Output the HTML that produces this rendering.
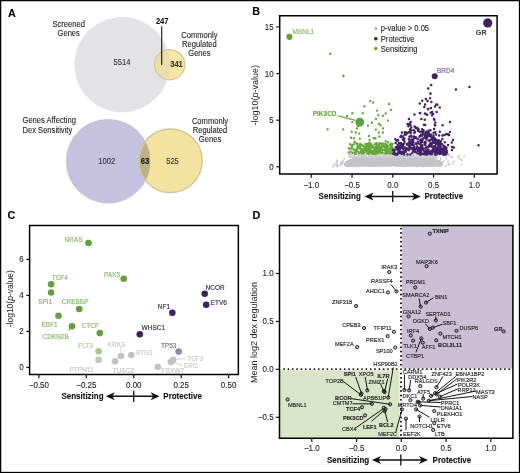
<!DOCTYPE html><html><head><meta charset="utf-8"><style>html,body{margin:0;padding:0;background:#fff;}svg{display:block;filter:blur(0.3px);}</style></head><body>
<svg width="520" height="473" viewBox="0 0 520 473" font-family='"Liberation Sans", sans-serif'>
<style>text{stroke-linejoin:round}</style>
<rect x="0" y="0" width="520" height="473" fill="#fff"/>
<text transform="translate(8.00 17.00) scale(0.93 1)" font-size="11.61" fill="#000" stroke="#000" stroke-width="0.1" text-anchor="start" font-weight="bold">A</text>
<circle cx="122.00" cy="64.70" r="47.6" fill="#e3e3e5" stroke="none" stroke-width="0" />
<circle cx="169.70" cy="64.70" r="15.1" fill="#f5e5a8" stroke="#d2c598" stroke-width="1.2" />
<clipPath id="cg"><circle cx="122" cy="64.7" r="47.6"/></clipPath>
<circle cx="169.7" cy="64.7" r="14.5" fill="#ecdca8" clip-path="url(#cg)"/>
<text transform="translate(68.70 26.80) scale(0.93 1)" font-size="8.17" fill="#222" stroke="#222" stroke-width="0.1" text-anchor="middle" font-weight="normal">Screened</text>
<text transform="translate(68.70 35.60) scale(0.93 1)" font-size="8.17" fill="#222" stroke="#222" stroke-width="0.1" text-anchor="middle" font-weight="normal">Genes</text>
<text transform="translate(199.40 38.00) scale(0.93 1)" font-size="8.17" fill="#222" stroke="#222" stroke-width="0.1" text-anchor="middle" font-weight="normal">Commonly</text>
<text transform="translate(199.40 47.10) scale(0.93 1)" font-size="8.17" fill="#222" stroke="#222" stroke-width="0.1" text-anchor="middle" font-weight="normal">Regulated</text>
<text transform="translate(199.40 56.20) scale(0.93 1)" font-size="8.17" fill="#222" stroke="#222" stroke-width="0.1" text-anchor="middle" font-weight="normal">Genes</text>
<text transform="translate(162.20 24.40) scale(0.93 1)" font-size="8.17" fill="#111" stroke="#111" stroke-width="0.1" text-anchor="middle" font-weight="bold">247</text>
<line x1="161.70" y1="26.30" x2="161.70" y2="65.00" stroke="#111" stroke-width="1.1" />
<text transform="translate(122.00 65.20) scale(0.93 1)" font-size="8.17" fill="#333" stroke="#333" stroke-width="0.1" text-anchor="middle" font-weight="normal">5514</text>
<text transform="translate(176.50 67.00) scale(0.93 1)" font-size="8.17" fill="#333" stroke="#333" stroke-width="0.1" text-anchor="middle" font-weight="bold">341</text>
<circle cx="108.20" cy="161.20" r="42.3" fill="#c6c1de" stroke="none" stroke-width="0" />
<circle cx="170.40" cy="160.80" r="31.8" fill="#f4e2a0" stroke="#cfc49c" stroke-width="1.4" />
<clipPath id="cp"><circle cx="108.2" cy="161.2" r="42.3"/></clipPath>
<circle cx="170.4" cy="160.8" r="31.1" fill="#c0b08a" clip-path="url(#cp)"/>
<text transform="translate(22.50 123.00) scale(0.93 1)" font-size="8.17" fill="#222" stroke="#222" stroke-width="0.1" text-anchor="start" font-weight="normal">Genes Affecting</text>
<text transform="translate(22.50 132.50) scale(0.93 1)" font-size="8.17" fill="#222" stroke="#222" stroke-width="0.1" text-anchor="start" font-weight="normal">Dex Sensitivity</text>
<text transform="translate(210.00 124.20) scale(0.93 1)" font-size="8.17" fill="#222" stroke="#222" stroke-width="0.1" text-anchor="middle" font-weight="normal">Commonly</text>
<text transform="translate(210.00 133.10) scale(0.93 1)" font-size="8.17" fill="#222" stroke="#222" stroke-width="0.1" text-anchor="middle" font-weight="normal">Regulated</text>
<text transform="translate(210.00 142.00) scale(0.93 1)" font-size="8.17" fill="#222" stroke="#222" stroke-width="0.1" text-anchor="middle" font-weight="normal">Genes</text>
<text transform="translate(106.80 163.50) scale(0.93 1)" font-size="8.17" fill="#333" stroke="#333" stroke-width="0.1" text-anchor="middle" font-weight="normal">1002</text>
<text transform="translate(145.00 163.50) scale(0.93 1)" font-size="8.17" fill="#111" stroke="#111" stroke-width="0.1" text-anchor="middle" font-weight="bold">63</text>
<text transform="translate(172.50 163.50) scale(0.93 1)" font-size="8.17" fill="#333" stroke="#333" stroke-width="0.1" text-anchor="middle" font-weight="normal">525</text>
<text transform="translate(252.20 14.50) scale(0.93 1)" font-size="11.61" fill="#000" stroke="#000" stroke-width="0.1" text-anchor="start" font-weight="bold">B</text>
<path stroke="#c4c3c8" stroke-width="2.5" stroke-linecap="round" fill="none" d="M357.5 161.7h0M403.3 157.3h0M359.3 165.4h0M351.8 160.2h0M437.0 163.8h0M380.8 161.6h0M409.3 159.5h0M358.4 164.1h0M410.0 161.6h0M424.2 161.9h0M440.1 162.7h0M398.7 161.4h0M379.3 162.3h0M367.8 164.2h0M429.1 158.4h0M390.3 159.5h0M353.1 165.2h0M386.7 158.3h0M410.3 158.8h0M432.4 159.9h0M348.2 162.1h0M378.5 161.2h0M432.9 163.7h0M377.9 157.2h0M360.5 166.0h0M389.6 163.2h0M350.3 160.2h0M427.1 162.3h0M374.9 159.9h0M353.7 159.8h0M347.4 165.3h0M390.2 158.1h0M416.7 158.8h0M351.0 163.5h0M431.9 158.2h0M423.1 158.7h0M354.0 158.5h0M373.4 163.5h0M392.8 164.7h0M366.1 159.8h0M370.0 165.8h0M436.3 161.9h0M387.3 159.8h0M417.4 157.4h0M351.5 162.1h0M368.8 164.6h0M417.0 161.9h0M409.2 163.2h0M420.8 165.3h0M359.5 162.6h0M358.9 161.0h0M421.3 165.1h0M418.6 157.3h0M379.9 158.5h0M441.9 163.4h0M368.7 160.2h0M350.9 165.2h0M406.7 158.4h0M393.3 157.7h0M404.3 159.1h0M348.7 161.4h0M398.9 162.7h0M376.5 162.8h0M379.2 158.2h0M375.6 160.6h0M433.5 159.5h0M353.4 162.8h0M438.4 165.5h0M412.9 157.6h0M423.2 163.2h0M359.0 161.2h0M349.8 164.9h0M414.7 164.2h0M418.8 159.4h0M421.6 159.2h0M358.4 160.6h0M393.3 159.6h0M403.8 162.4h0M368.3 162.6h0M379.7 163.6h0M373.2 164.2h0M385.3 162.0h0M410.3 161.7h0M370.0 165.8h0M354.3 160.8h0M398.3 157.3h0M360.0 164.2h0M421.0 162.7h0M432.5 164.1h0M374.0 162.8h0M378.0 163.7h0M382.3 158.4h0M430.0 163.4h0M417.2 162.0h0M420.9 161.0h0M399.9 157.6h0M398.8 164.3h0M413.4 164.2h0M393.1 164.9h0M355.5 165.0h0M381.0 157.8h0M405.1 161.1h0M386.6 164.7h0M358.4 162.6h0M385.1 161.8h0M393.4 158.2h0M394.7 164.8h0M361.6 157.1h0M351.6 162.5h0M439.5 161.7h0M441.1 164.4h0M356.7 161.1h0M365.1 163.4h0M397.5 159.6h0M369.8 164.8h0M419.3 160.9h0M384.3 163.6h0M439.2 161.7h0M360.4 160.3h0M394.2 157.6h0M350.2 161.4h0M382.4 163.7h0M404.2 157.3h0M349.4 163.0h0M429.9 165.3h0M380.4 165.0h0M435.1 162.0h0M417.4 160.3h0M359.9 162.2h0M353.4 163.5h0M423.5 165.2h0M388.5 158.1h0M432.5 165.0h0M438.9 164.0h0M410.3 160.4h0M362.8 159.6h0M414.9 159.9h0M412.1 161.5h0M388.6 165.7h0M361.1 161.4h0M360.5 165.4h0M392.4 160.0h0M361.3 162.3h0M383.7 158.1h0M348.1 163.1h0M401.6 161.7h0M432.3 165.3h0M435.8 164.7h0M391.3 161.7h0M383.5 160.6h0M349.0 164.9h0M368.9 157.3h0M390.2 163.5h0M387.3 160.3h0M408.9 158.5h0M346.1 164.5h0M396.5 164.8h0M385.3 164.1h0M346.7 162.1h0M403.1 159.0h0M351.5 160.3h0M381.4 160.0h0M399.7 165.0h0M380.5 158.7h0M401.1 157.0h0M382.3 159.9h0M382.6 157.5h0M398.8 162.6h0M417.7 165.6h0M379.4 162.9h0M387.9 158.9h0M431.3 163.9h0M436.5 164.9h0M434.0 159.7h0M346.5 162.9h0M385.0 163.2h0M387.5 161.6h0M418.8 157.6h0M410.8 157.4h0M369.1 163.5h0M411.3 160.6h0M373.6 164.5h0M371.7 157.3h0M369.0 157.2h0M423.6 158.1h0M439.5 162.5h0M374.7 162.3h0M374.9 160.4h0M355.1 161.1h0M347.4 162.5h0M433.2 160.6h0M371.3 163.1h0M430.6 160.1h0M381.5 163.4h0M421.8 162.5h0M362.4 158.6h0M418.5 163.4h0M431.9 164.2h0M385.9 158.2h0M431.4 163.5h0M400.9 163.1h0M382.4 160.1h0M400.8 161.3h0M413.8 165.4h0M427.2 160.5h0M381.1 165.3h0M383.3 164.2h0M354.0 161.8h0M395.1 164.3h0M430.1 158.8h0M404.9 162.7h0M359.7 164.5h0M398.7 165.7h0M363.1 161.7h0M376.4 162.8h0M404.0 161.6h0M376.5 161.5h0M381.1 165.0h0M389.8 161.3h0M370.1 159.3h0M437.5 162.2h0M429.2 162.5h0M440.1 162.5h0M436.3 164.6h0M400.1 163.4h0M415.1 161.0h0M406.5 159.1h0M347.1 164.6h0M391.0 165.2h0M370.6 164.4h0M440.7 165.6h0M438.5 161.8h0M361.0 159.1h0M380.1 158.0h0M359.6 157.2h0M435.5 161.8h0M405.7 161.1h0M417.1 164.3h0M382.1 161.8h0M354.5 160.5h0M366.6 159.8h0M376.5 162.2h0M377.3 159.9h0M425.6 157.1h0M345.5 162.9h0M429.0 162.8h0M415.6 165.6h0M366.1 165.3h0M368.5 161.7h0M411.1 164.2h0M369.1 161.3h0M349.4 162.1h0M440.2 165.6h0M401.5 164.1h0M432.5 160.8h0M440.1 163.7h0M360.4 161.8h0M402.6 163.2h0M410.1 157.4h0M407.0 165.3h0M410.0 165.8h0M394.6 164.3h0M358.6 165.1h0M387.3 164.9h0M376.1 162.6h0M427.1 163.4h0M405.1 165.7h0M353.5 159.3h0M398.5 165.6h0M411.6 159.8h0M355.4 161.5h0M391.6 161.2h0M405.1 159.5h0M430.4 160.0h0M355.4 160.7h0M435.8 160.6h0M371.9 165.3h0M378.8 164.6h0M349.4 165.4h0M368.0 158.6h0M417.0 165.9h0M438.1 164.7h0M433.7 165.9h0M398.6 158.3h0M427.4 160.6h0M375.3 161.5h0M348.4 161.1h0M370.6 162.4h0M417.7 165.6h0M424.4 165.5h0M406.7 163.6h0M402.0 157.7h0M351.0 164.5h0M364.6 164.1h0M390.0 157.1h0M399.5 161.0h0M352.2 161.0h0M374.7 160.1h0M413.6 158.5h0M388.0 162.5h0M436.8 160.8h0M352.7 160.3h0M366.4 158.5h0M352.4 160.5h0M366.7 161.3h0M407.8 160.3h0M361.3 157.9h0M370.5 158.5h0M391.7 164.8h0M414.5 158.8h0M348.5 161.3h0M387.3 160.3h0M411.2 157.8h0M369.7 163.2h0M400.1 161.7h0M432.5 159.1h0M364.0 162.1h0M399.8 165.8h0M439.8 164.2h0M418.6 163.3h0M357.9 162.5h0M374.7 160.2h0M360.2 157.1h0M427.8 163.5h0M418.0 159.6h0M385.5 158.6h0M403.4 164.6h0M420.5 165.4h0M370.3 163.3h0M357.3 162.0h0M355.7 162.2h0M397.6 160.1h0M378.9 163.4h0M391.7 160.7h0M355.9 160.1h0M427.2 165.7h0M381.2 164.8h0M429.7 159.3h0M371.6 163.3h0M374.7 165.6h0M380.4 163.6h0M413.6 158.9h0M429.0 160.1h0M355.7 158.2h0M388.8 162.7h0M371.3 164.6h0M370.9 164.6h0M348.2 162.4h0M360.5 161.0h0M379.0 160.6h0M427.6 162.2h0M403.7 160.5h0M423.4 161.5h0M417.4 165.2h0M404.4 160.9h0M370.6 165.2h0M419.2 164.2h0M366.5 160.9h0M430.7 159.7h0M423.9 161.8h0M366.2 160.4h0M352.4 163.7h0M415.5 157.3h0M374.2 163.9h0M364.4 161.8h0M423.2 162.1h0M356.9 165.2h0M417.4 162.1h0M377.3 162.2h0M383.0 158.1h0M356.8 157.9h0M361.5 159.2h0M406.6 162.2h0M402.3 164.4h0M354.2 161.3h0M352.7 161.9h0M352.6 159.4h0M355.1 161.1h0M419.0 159.5h0M417.0 159.1h0M372.9 161.2h0M352.3 162.2h0M401.6 164.4h0M350.4 164.8h0M400.3 162.2h0M350.0 165.3h0M371.9 161.9h0M397.2 165.2h0M403.3 165.9h0M367.5 163.0h0M401.0 161.6h0M405.9 162.0h0M377.7 162.8h0M353.1 162.2h0M388.9 158.9h0M400.1 163.0h0M357.1 160.0h0M351.0 163.5h0M352.9 160.5h0M388.4 161.1h0M348.2 165.7h0M367.3 162.5h0M366.6 162.4h0M379.2 159.9h0M391.0 162.3h0M403.0 163.2h0M371.1 157.8h0M369.6 159.9h0M403.9 160.7h0M375.2 157.9h0M402.9 158.0h0M395.1 163.2h0M405.4 158.4h0M379.5 165.5h0M353.8 163.6h0M387.3 162.5h0M383.2 158.1h0M399.6 157.1h0M428.8 164.2h0M381.3 161.8h0M396.2 165.8h0M349.2 162.2h0M384.5 164.1h0M415.8 160.8h0M346.1 164.7h0M384.5 158.1h0M406.2 161.0h0M374.7 159.4h0M395.5 159.2h0M383.1 165.5h0M391.3 159.3h0M395.6 165.3h0M429.0 163.2h0M432.2 164.1h0M411.0 160.9h0M359.5 163.6h0M406.5 165.7h0M376.1 164.9h0M366.2 165.5h0M441.6 162.9h0M376.5 166.0h0M438.9 164.4h0M358.0 157.3h0M369.2 165.5h0M423.1 160.9h0M418.8 165.1h0M374.1 164.9h0M371.1 160.0h0M349.3 161.4h0M398.4 157.2h0M397.9 158.5h0M417.6 158.2h0M365.1 159.4h0M401.5 164.3h0M418.1 163.7h0M411.1 161.9h0M378.2 158.6h0M428.8 160.8h0M408.1 157.6h0M380.0 157.9h0M379.4 163.6h0M378.1 163.1h0M356.9 160.7h0M384.8 161.6h0M367.2 163.3h0M430.6 164.4h0M348.0 163.6h0M378.4 162.2h0M353.1 164.0h0M385.4 165.5h0M346.9 163.6h0M392.2 164.5h0M418.4 158.6h0M374.9 163.6h0M385.7 159.4h0M435.3 165.0h0M379.5 161.9h0M435.1 160.8h0M433.2 165.1h0M415.5 163.2h0M411.4 161.9h0M401.5 158.8h0M399.6 163.1h0M392.1 163.1h0M389.4 164.2h0M414.9 157.8h0M419.6 159.6h0M352.9 159.7h0M376.4 161.7h0M377.0 158.8h0M419.6 160.4h0M429.8 159.5h0M411.9 160.2h0M427.4 162.8h0M410.8 157.8h0M417.9 160.2h0M416.8 164.6h0M356.9 157.6h0M418.5 165.7h0M432.3 161.6h0M425.9 157.2h0M350.7 163.4h0M396.2 164.4h0M367.6 161.2h0M441.0 163.5h0M384.2 162.5h0M441.5 163.3h0M412.0 160.7h0M383.9 159.3h0M390.1 162.2h0M383.0 161.6h0M406.7 164.7h0M399.4 160.4h0M438.3 161.7h0M349.4 165.5h0M370.8 158.4h0M382.4 160.1h0M379.4 164.7h0M373.2 158.2h0M365.9 165.5h0M386.6 160.2h0M420.4 165.4h0M394.5 164.3h0M370.7 160.2h0M400.9 159.1h0M371.7 158.7h0M370.4 164.6h0M422.1 158.0h0M378.8 163.5h0M428.4 162.1h0M415.5 159.1h0M420.8 164.4h0M384.5 159.1h0M348.2 164.2h0M406.4 157.0h0M395.5 165.4h0M347.8 162.0h0M350.6 162.6h0M382.3 164.8h0M351.4 160.8h0M436.0 159.8h0M370.1 160.5h0M345.1 163.8h0M403.5 162.5h0M404.0 162.9h0M404.6 157.3h0M408.5 162.3h0M366.1 160.8h0M368.1 164.8h0M372.0 158.5h0M422.3 163.9h0M427.7 163.1h0M385.4 161.3h0M398.9 162.4h0M436.7 161.6h0M419.5 157.2h0M363.5 165.5h0M369.4 161.6h0M433.9 163.5h0M392.4 163.3h0M439.9 165.8h0M362.6 158.3h0M372.9 158.3h0M419.1 164.5h0M358.6 157.7h0M376.4 163.2h0M419.7 161.1h0M407.0 165.3h0M430.4 158.5h0M414.2 164.0h0M433.0 161.6h0M360.1 161.3h0M380.9 160.5h0M422.9 162.9h0M411.0 162.9h0M358.7 157.6h0M383.3 164.6h0M407.9 164.1h0M405.4 164.1h0M441.6 165.1h0M428.6 165.8h0M416.8 164.3h0M352.6 159.2h0M434.6 160.7h0M374.6 158.2h0M406.6 157.3h0M422.5 159.7h0M417.2 165.2h0M412.0 160.8h0M405.6 164.7h0M414.0 159.3h0M345.7 165.6h0M405.5 157.6h0M398.4 162.3h0M373.5 165.0h0M368.3 158.3h0M375.0 160.0h0M430.8 163.1h0M356.8 160.8h0M355.0 163.7h0M427.9 157.9h0M393.5 159.2h0M372.6 163.7h0M439.8 162.9h0M397.6 159.8h0M351.0 163.5h0M360.1 163.2h0M417.5 158.3h0M402.8 158.9h0M419.0 159.6h0M411.9 162.8h0M400.8 159.0h0M425.9 160.2h0M419.7 161.3h0M388.5 163.4h0M378.1 163.9h0M388.2 163.7h0M412.7 165.5h0M384.6 160.1h0M441.5 164.4h0M385.6 163.3h0M369.3 165.6h0M418.1 162.8h0M373.3 164.3h0M434.2 164.5h0M433.5 159.3h0M416.9 164.8h0M391.2 157.7h0M397.6 159.2h0M348.2 165.7h0M425.7 162.7h0M417.6 163.0h0M389.9 158.1h0M373.0 161.6h0M401.5 159.7h0M357.3 160.3h0M363.0 165.4h0M366.4 160.5h0M397.6 159.3h0M393.0 162.0h0M349.8 165.7h0M397.2 158.3h0M440.3 162.7h0M415.6 161.3h0M370.0 160.4h0M391.7 160.3h0M369.0 160.7h0M387.3 163.2h0M364.2 157.4h0M425.9 157.6h0M406.2 161.9h0M439.6 162.4h0M431.1 158.8h0M361.6 162.9h0M361.1 162.3h0M410.5 158.1h0M421.6 160.8h0M438.8 161.2h0M352.6 163.3h0M369.9 160.6h0M433.2 161.1h0M350.0 161.0h0M398.9 164.0h0M418.5 161.2h0M368.2 158.2h0M366.7 158.8h0M433.0 161.5h0M356.3 163.0h0M389.4 157.3h0M440.0 165.8h0M370.5 164.5h0M389.1 163.1h0M408.4 163.6h0M387.7 158.3h0M423.0 161.0h0M387.9 163.8h0M411.5 165.9h0M382.6 162.7h0M353.1 159.6h0M369.7 159.5h0M388.3 159.1h0M435.8 162.3h0M382.1 165.1h0M422.2 163.9h0M433.7 164.1h0M374.6 165.7h0M347.6 165.5h0M385.7 160.0h0M391.0 160.6h0M428.5 164.3h0M417.4 159.1h0M387.7 157.7h0M417.0 157.4h0M383.4 158.4h0M427.7 165.3h0M373.1 164.9h0M362.3 163.4h0M369.3 161.0h0M404.3 160.2h0M364.2 162.3h0M422.0 166.0h0M376.3 159.3h0M352.4 160.5h0M347.5 162.6h0M415.4 158.0h0M407.7 159.7h0M367.2 161.4h0M387.3 161.0h0M356.4 162.3h0M432.5 158.3h0M352.9 163.0h0M375.9 159.3h0M440.8 163.4h0M434.3 163.3h0M347.9 162.5h0M352.3 162.8h0M433.1 158.9h0M347.7 161.5h0M371.5 158.5h0M438.9 164.9h0M436.1 163.4h0M424.6 163.4h0M373.3 162.9h0M373.1 161.2h0M424.8 159.0h0M362.0 164.7h0M389.9 158.6h0M375.8 159.5h0M431.9 161.8h0M434.3 162.2h0M436.1 165.5h0M400.1 164.1h0M372.9 158.0h0M403.6 157.5h0M390.3 162.6h0M419.5 165.1h0M364.8 164.8h0M393.1 162.6h0M389.8 164.6h0M374.1 157.1h0M425.4 163.0h0M414.5 158.1h0M365.0 162.6h0M417.5 163.0h0M402.8 162.9h0M359.3 161.1h0M377.0 163.6h0M395.2 163.5h0M412.4 165.1h0M428.1 157.5h0M409.8 160.4h0M354.8 161.9h0M426.8 164.2h0M355.3 159.6h0M412.4 165.7h0M352.5 159.6h0M412.5 162.5h0M423.7 158.8h0M392.9 164.2h0M382.1 160.6h0M348.2 165.0h0M388.3 160.4h0M408.6 164.7h0M429.0 160.2h0M404.0 160.5h0M426.4 164.1h0M409.2 164.4h0M394.5 162.1h0M360.8 163.4h0M373.0 162.1h0M345.2 164.1h0M404.7 162.7h0M399.7 159.3h0M408.5 163.0h0M402.2 160.4h0M359.8 162.0h0M350.0 165.5h0M379.2 159.5h0M388.7 157.9h0M430.8 165.8h0M424.9 162.2h0M436.3 161.9h0M390.1 158.5h0M386.2 165.3h0M409.3 161.9h0M397.0 162.7h0M404.2 161.1h0M394.6 157.9h0M388.0 163.1h0M366.7 159.5h0M423.1 158.2h0M364.0 164.4h0M356.7 160.1h0M433.3 161.6h0M424.3 163.9h0M346.9 162.8h0M433.5 161.0h0M384.2 165.4h0M355.6 165.8h0M407.7 162.7h0M345.1 164.9h0M424.7 160.5h0M352.1 160.1h0M352.5 161.9h0M424.3 157.5h0M384.4 160.6h0M383.6 161.7h0M396.9 158.8h0M422.1 161.7h0M379.2 165.7h0M413.5 158.5h0M439.0 164.0h0M378.0 159.1h0M351.6 161.0h0M373.0 160.1h0M440.8 164.5h0M363.6 160.3h0M386.9 157.7h0M390.4 161.6h0M433.2 161.8h0M411.8 163.1h0M362.0 162.1h0M388.6 158.5h0M347.3 166.0h0M353.8 165.1h0M380.6 157.7h0M438.6 164.3h0M384.2 164.5h0M413.6 160.7h0M414.6 163.6h0M361.7 163.4h0M433.9 163.7h0M422.5 165.9h0M422.2 161.2h0M399.5 163.9h0M406.3 157.6h0M350.8 161.5h0M424.4 159.0h0M375.9 164.4h0M357.5 159.7h0M369.9 157.4h0M417.0 159.9h0M384.5 160.0h0M351.4 165.0h0M358.0 159.7h0M414.9 160.1h0M394.2 160.0h0M399.3 159.9h0M389.3 157.1h0M346.5 164.1h0M424.3 166.0h0M422.9 161.7h0M407.5 163.0h0M415.8 165.9h0M378.3 161.0h0M420.6 158.9h0M354.3 165.2h0M346.5 165.6h0M433.7 159.9h0M418.3 159.6h0M371.3 165.9h0M431.0 164.1h0M387.3 165.9h0M400.3 165.8h0M415.0 157.4h0M422.4 164.5h0M430.5 162.8h0M348.6 165.3h0M385.9 158.8h0M365.2 158.8h0M424.1 157.7h0M434.1 159.0h0M415.1 159.1h0M394.9 158.6h0M432.3 159.4h0M390.3 162.5h0M389.0 158.9h0M373.1 165.4h0M357.1 157.6h0M433.1 165.1h0M411.5 161.2h0M437.3 162.7h0M346.3 163.9h0M396.3 161.9h0M431.2 158.3h0M427.9 161.7h0M416.0 160.7h0M373.7 160.0h0M371.6 161.1h0M403.0 164.5h0M361.9 161.1h0M396.6 164.4h0M413.9 162.6h0M410.4 161.0h0M423.2 164.5h0M399.9 158.1h0M386.3 159.4h0M363.6 159.7h0M424.5 160.1h0M386.7 160.4h0M362.9 162.1h0M385.4 165.4h0M405.0 165.8h0M428.3 161.5h0M346.6 162.9h0M356.6 163.8h0M358.4 162.9h0M376.3 161.3h0M418.4 159.7h0M361.7 159.6h0M436.5 163.3h0M372.9 158.3h0M351.6 161.6h0M404.6 161.1h0M423.8 166.0h0M400.3 160.1h0M422.1 157.8h0M418.7 164.9h0M420.3 157.9h0M401.4 164.2h0M384.9 164.6h0M361.1 161.8h0M399.1 164.1h0M385.0 159.3h0M414.1 158.0h0M380.7 161.2h0M421.4 160.8h0M399.5 163.1h0M410.5 165.7h0M389.9 162.1h0M346.9 162.7h0M369.1 158.9h0M395.4 158.8h0M400.3 164.4h0M352.0 160.9h0M393.2 157.4h0M358.9 162.2h0M383.8 165.1h0M400.3 163.8h0M378.5 160.4h0M427.8 162.5h0M433.7 160.5h0M356.1 163.3h0M357.1 158.1h0M382.9 163.2h0M380.0 163.8h0M389.2 159.6h0M396.8 162.4h0M359.5 162.3h0M361.3 165.7h0M396.6 158.8h0M349.1 161.8h0M375.9 162.2h0M409.4 163.4h0M387.8 162.7h0M398.7 159.7h0M366.2 160.6h0M411.9 158.2h0M406.7 157.2h0M362.8 163.0h0M423.4 163.9h0M411.3 159.3h0M440.8 164.5h0M433.3 165.5h0M368.2 165.7h0M352.9 163.4h0M369.9 157.8h0M400.2 158.9h0M421.3 161.2h0M371.2 157.1h0M412.1 162.7h0M423.1 160.4h0M433.7 158.9h0M434.1 164.3h0M354.9 165.9h0M353.7 164.1h0M368.7 163.2h0M426.2 158.1h0M376.5 165.1h0M391.3 158.4h0M353.4 159.5h0M355.3 160.8h0M420.3 161.1h0M354.5 161.0h0M391.9 161.0h0M407.2 163.1h0M417.5 161.8h0M347.9 164.9h0M421.0 163.6h0M387.4 165.0h0M354.3 164.0h0M402.8 163.3h0M351.5 165.8h0M347.9 162.1h0M395.1 162.2h0M362.3 159.6h0M433.8 161.1h0M388.2 158.0h0M400.2 163.3h0M416.9 159.1h0M380.8 162.9h0M439.4 165.0h0M366.3 157.6h0M376.8 161.8h0M371.4 164.1h0M369.9 158.1h0M403.4 163.8h0M364.9 160.0h0M370.2 157.3h0M411.2 157.5h0M404.4 162.6h0M396.4 157.4h0M348.6 163.5h0M392.6 157.1h0M346.0 165.2h0M376.5 163.5h0M364.3 159.4h0M432.1 159.7h0M384.6 161.5h0M414.1 159.9h0M408.0 159.0h0M411.1 157.2h0M363.1 157.5h0M354.9 164.0h0M390.0 164.0h0M439.6 162.4h0M419.6 165.7h0M375.0 157.7h0M389.8 161.9h0M411.7 162.1h0M374.3 158.5h0M378.0 161.2h0M363.0 159.7h0M430.8 161.2h0M357.2 163.1h0M379.4 161.6h0M383.1 158.0h0M416.5 162.1h0M440.9 162.4h0M401.0 160.8h0M387.2 163.5h0M368.5 160.6h0M357.9 162.2h0M387.4 157.4h0M367.3 160.6h0M396.6 157.8h0M405.1 164.4h0M377.3 157.6h0M359.2 163.9h0M396.6 158.2h0M361.3 164.5h0M410.9 163.3h0M358.6 165.9h0M369.6 160.2h0M367.7 165.5h0M406.3 162.0h0M385.2 163.5h0M390.5 161.2h0M359.7 164.4h0M351.4 165.4h0M433.9 162.6h0M360.8 159.0h0M358.6 163.3h0M380.2 165.8h0M378.1 160.0h0M410.6 164.9h0M396.1 158.1h0M361.6 163.4h0M419.3 165.9h0M400.6 164.0h0M410.5 161.9h0M423.4 158.8h0M359.9 159.8h0M382.3 165.5h0M425.0 163.7h0M431.5 161.0h0M440.5 165.6h0M363.0 160.4h0M374.9 158.7h0M435.9 162.1h0M429.3 162.5h0M350.8 162.5h0M420.7 159.9h0M373.4 157.8h0M391.0 165.5h0M346.8 165.5h0M403.2 159.5h0M432.1 165.4h0M439.4 163.6h0M385.2 163.0h0M431.2 160.7h0M377.2 160.7h0M347.0 165.3h0M389.4 161.2h0M406.4 164.3h0M413.4 160.0h0M373.6 160.0h0M396.6 164.3h0M345.8 164.6h0M426.9 162.1h0M382.0 161.3h0M394.9 162.6h0M352.3 164.6h0M398.5 159.5h0M433.8 161.6h0M420.2 159.7h0M398.2 158.7h0M371.5 160.0h0M358.9 163.9h0M388.7 160.1h0M401.8 159.1h0M387.5 162.1h0M404.7 160.8h0M417.1 164.8h0M438.4 163.8h0M438.6 165.7h0M408.6 158.2h0M407.2 161.8h0M413.1 159.4h0M441.3 163.8h0M442.0 163.8h0M391.3 163.1h0M370.2 160.7h0M409.2 163.8h0M433.9 162.8h0M438.4 162.3h0M404.1 163.8h0M353.1 164.5h0M424.5 162.1h0M434.6 163.9h0M380.6 164.3h0M395.3 163.1h0M440.9 164.9h0M420.4 164.3h0M364.4 157.3h0M352.4 162.3h0M438.7 163.3h0M434.6 161.1h0M358.8 160.7h0M426.9 165.7h0M397.2 160.4h0M421.4 160.8h0M374.3 163.8h0M353.1 164.4h0M437.5 161.0h0M420.8 157.2h0M357.1 159.9h0M441.9 163.1h0M389.3 161.0h0M362.2 165.8h0M367.9 165.1h0M397.7 163.4h0M417.1 163.1h0M423.5 164.9h0M358.7 157.9h0M389.0 158.0h0M402.3 165.5h0M394.9 158.5h0M356.3 162.1h0M417.1 164.3h0M418.3 161.2h0M429.9 162.1h0M411.3 157.0h0M392.6 157.8h0M365.6 159.7h0M400.6 157.7h0M414.1 160.6h0M366.1 165.6h0M409.1 160.0h0M356.9 161.6h0M419.8 161.6h0M375.0 158.0h0M366.7 164.1h0M360.5 165.8h0M415.7 160.6h0M363.3 161.2h0M437.4 161.1h0M368.6 157.7h0M415.2 165.6h0M399.0 159.7h0M438.5 163.9h0M438.1 162.7h0M359.1 157.7h0M370.9 160.9h0M419.1 161.2h0M371.1 165.1h0M401.0 162.4h0M424.5 163.0h0M368.4 165.6h0M360.7 158.4h0M407.9 162.2h0M367.2 163.3h0M354.6 161.9h0M436.9 165.4h0M403.6 164.1h0M409.3 159.1h0M428.3 162.5h0M402.8 165.6h0M399.2 159.9h0M386.0 162.0h0M429.6 164.6h0M383.6 161.4h0M349.8 163.9h0M422.9 158.8h0M406.7 158.3h0M426.4 163.6h0M435.6 161.4h0M361.5 162.1h0M350.6 164.9h0M364.8 158.2h0M359.4 163.3h0M349.8 162.7h0M362.6 164.0h0M350.2 161.2h0M419.9 161.6h0M356.2 165.9h0M381.0 160.8h0M416.9 161.4h0M425.5 161.8h0M368.8 161.8h0M426.4 159.5h0M406.7 162.2h0M412.2 160.2h0M367.0 163.0h0M427.2 161.2h0M358.3 164.3h0M396.2 163.1h0M354.8 164.3h0M381.1 165.0h0M369.0 157.1h0M376.0 163.5h0M414.8 164.6h0M365.4 162.3h0M352.1 160.7h0M349.4 164.0h0M431.9 162.8h0M403.5 165.1h0M377.0 162.0h0M423.5 158.7h0M413.2 157.7h0M380.9 158.7h0M386.9 158.8h0M351.0 162.5h0M382.9 163.6h0M346.4 164.6h0M349.3 163.2h0M347.0 165.6h0M392.3 161.3h0M351.9 164.6h0M370.8 161.2h0M415.0 164.1h0M382.5 157.5h0M440.6 163.2h0M349.1 164.0h0M429.7 158.1h0M349.4 164.2h0M400.5 159.3h0M370.7 163.9h0M347.0 162.8h0M380.2 164.0h0M375.5 157.5h0M417.1 163.2h0M357.4 163.6h0M405.5 160.3h0M401.1 161.5h0M422.0 165.6h0M378.1 157.8h0M380.4 162.4h0M369.9 158.4h0M365.6 164.6h0M414.3 158.1h0M374.1 159.4h0M355.9 164.7h0M373.0 162.1h0M382.1 157.6h0M348.5 164.5h0M405.9 161.4h0M362.2 160.1h0M394.2 158.9h0M400.9 164.6h0M362.2 165.4h0M394.3 165.8h0M438.9 161.5h0M411.1 159.2h0M405.2 165.0h0M389.4 162.9h0M409.8 158.7h0M386.3 159.6h0M391.8 163.9h0M359.1 162.0h0M393.9 160.5h0M426.6 160.2h0M422.6 157.6h0M387.6 158.0h0M427.1 163.0h0M365.6 160.4h0M357.3 165.0h0M431.6 165.1h0M403.7 159.4h0M389.2 163.0h0"/>
<path stroke="#cfcdd3" stroke-width="2.2" stroke-linecap="round" fill="none" d="M387.1 153.7h0M396.3 153.9h0M369.6 156.8h0M404.5 156.7h0M410.5 156.1h0M370.7 156.3h0M359.6 153.6h0M379.2 154.1h0M411.9 154.6h0M351.2 156.6h0M434.0 156.3h0M435.9 156.6h0M433.5 156.2h0M420.2 156.7h0M358.7 154.8h0M404.7 154.8h0M428.3 153.7h0M359.8 154.8h0M379.5 156.8h0M349.4 156.8h0M437.5 153.7h0M435.6 156.1h0M360.1 156.8h0M359.0 155.0h0M370.0 155.0h0M361.4 155.0h0M400.3 155.4h0M396.0 157.1h0M426.3 154.0h0M415.6 156.7h0M431.7 155.1h0M432.9 155.7h0M391.1 155.5h0M385.9 156.3h0M396.9 157.0h0M391.2 153.7h0M362.4 155.2h0M391.4 156.8h0M402.3 154.2h0M375.8 155.6h0M421.0 156.3h0M406.9 154.5h0M400.5 154.5h0M354.0 156.5h0M407.8 157.5h0M416.7 154.5h0M350.6 155.2h0M379.3 155.6h0M382.5 153.7h0M354.3 154.9h0M402.2 154.2h0M364.5 154.4h0M416.2 156.6h0M392.8 153.7h0M434.5 157.0h0M375.7 153.5h0M393.3 154.2h0M383.0 155.1h0M376.7 157.2h0M383.8 153.9h0M400.9 157.1h0M369.3 155.5h0M382.8 156.2h0M376.7 154.5h0M436.4 156.8h0M412.7 156.1h0M433.9 153.7h0M388.5 156.0h0M359.9 157.5h0M411.1 156.5h0M436.9 155.8h0M432.0 155.0h0M432.8 155.5h0M419.3 154.6h0M391.8 155.7h0M395.4 157.2h0M390.0 157.0h0M358.2 154.3h0M364.2 154.2h0M401.9 153.9h0M410.0 157.0h0M432.9 153.7h0M370.7 155.3h0M349.3 156.2h0M389.8 155.2h0M362.3 153.8h0M429.3 155.9h0M379.9 157.0h0M358.7 155.1h0M354.7 156.7h0M429.2 154.6h0M423.3 157.3h0M369.2 157.4h0M378.9 156.3h0M397.4 154.9h0M403.3 153.5h0M394.2 155.5h0M406.3 156.6h0M429.0 156.7h0M428.2 155.0h0M357.7 156.1h0M352.2 157.3h0M392.4 154.5h0M350.9 156.9h0M424.7 154.0h0M419.0 153.8h0M412.0 155.6h0M407.0 154.0h0M420.9 156.6h0M425.4 155.1h0M371.8 155.7h0M412.3 156.5h0M389.3 155.9h0M407.5 155.9h0M414.0 154.7h0M369.6 154.7h0M420.8 157.4h0M377.2 156.1h0M401.5 157.0h0M349.4 156.0h0M428.0 157.4h0M386.3 155.4h0M425.2 157.2h0M369.7 157.1h0M359.0 153.7h0M351.0 153.8h0M356.8 154.4h0M374.5 157.4h0M421.8 153.9h0M365.7 156.3h0M403.2 155.3h0M387.2 156.5h0M393.2 156.4h0M349.1 153.9h0M365.1 155.9h0M401.5 157.0h0M429.6 156.7h0M378.5 153.7h0M429.4 157.2h0M350.3 153.5h0M364.4 154.9h0M412.9 155.3h0M408.8 156.8h0M364.2 154.7h0M437.3 155.7h0M393.3 155.7h0M398.4 156.4h0M428.1 156.0h0M406.1 155.8h0M370.0 156.6h0M366.2 154.5h0M379.2 155.6h0M423.3 154.9h0M403.5 155.2h0M389.1 157.4h0M407.6 153.6h0M427.5 155.5h0M436.6 154.0h0M436.3 156.1h0M405.2 155.5h0M437.0 156.8h0M396.2 155.0h0M383.7 155.4h0M364.5 154.4h0M408.9 156.6h0M431.4 154.1h0M376.4 154.2h0M405.6 154.7h0M377.4 153.8h0M419.1 157.2h0M360.5 155.5h0M420.2 157.0h0M380.3 153.7h0M418.5 156.3h0M384.4 157.4h0M413.9 155.8h0M402.3 153.8h0M436.3 157.5h0M363.2 156.6h0M401.3 155.1h0M402.3 154.0h0M380.2 154.8h0M410.7 155.6h0M350.4 154.7h0M383.3 155.0h0M420.4 156.8h0M435.6 157.3h0M393.0 155.7h0M403.5 155.5h0M351.5 153.9h0M421.3 156.5h0M376.6 154.3h0M400.3 156.9h0M353.1 156.1h0M368.7 154.5h0M388.6 154.2h0M416.5 153.9h0M393.6 156.2h0M424.4 155.7h0M359.9 156.7h0M434.4 153.6h0M432.2 156.0h0M403.0 155.1h0M363.0 155.9h0M429.4 153.6h0M399.1 156.1h0M432.6 153.6h0M382.0 154.0h0M376.6 157.1h0M364.6 154.9h0M423.6 156.5h0M432.4 154.0h0M354.6 154.4h0M393.5 156.2h0M358.8 156.0h0M368.4 157.4h0M399.1 154.1h0M424.6 155.5h0M418.8 155.7h0M429.4 154.6h0M437.2 153.6h0M382.7 154.1h0M438.8 153.6h0M374.5 155.1h0M354.9 157.2h0M418.9 155.7h0M385.4 154.3h0M363.2 155.1h0M404.4 156.9h0M370.4 157.0h0M408.9 154.1h0M350.9 153.6h0M436.7 154.5h0M354.1 156.1h0M373.4 157.3h0M409.1 157.0h0M407.9 156.4h0M390.4 155.2h0M419.9 154.2h0M354.1 157.1h0M383.3 155.7h0M384.3 156.5h0M419.5 154.2h0M419.1 154.8h0M400.4 155.4h0M425.8 155.2h0M423.9 157.3h0M400.9 156.8h0M429.6 154.4h0M389.5 157.1h0M418.0 156.9h0M403.4 155.0h0M420.4 154.9h0M401.5 154.3h0M384.9 155.3h0M358.5 153.9h0M429.5 157.4h0M362.9 155.0h0M410.0 154.1h0M354.1 157.1h0"/>
<path stroke="#c9c9cc" stroke-width="2.0" stroke-linecap="round" fill="none" d="M337.2 166.6h0M340.8 163.7h0M341.1 163.1h0M337.0 164.0h0M339.6 165.8h0M337.3 160.5h0M345.9 163.3h0M336.4 165.2h0M337.3 164.8h0M342.8 161.3h0M342.6 162.9h0M333.4 166.8h0M336.9 162.1h0M346.2 164.5h0M335.5 164.1h0M333.3 165.0h0M342.1 164.3h0M341.5 161.8h0M342.8 162.7h0M344.2 159.3h0M337.0 160.2h0M340.7 164.0h0M445.7 166.3h0M449.6 154.2h0M458.9 155.5h0M440.4 157.8h0M452.2 157.1h0M448.6 155.7h0M449.3 164.3h0M448.1 161.6h0M445.5 155.6h0M448.3 154.4h0M452.3 163.2h0M451.0 156.9h0M448.4 164.7h0M446.3 158.3h0M457.9 157.2h0M464.2 156.2h0M440.6 159.5h0M454.0 161.4h0M448.4 164.1h0M462.0 160.3h0M461.3 164.5h0M444.6 155.8h0M443.4 155.1h0M460.2 159.0h0M443.7 161.1h0M447.7 154.6h0"/>
<path stroke="#67a83b" stroke-width="2.4" stroke-linecap="round" fill="none" d="M366.7 145.2h0M379.7 143.2h0M369.4 143.5h0M365.2 149.2h0M381.6 149.5h0M355.5 149.9h0M366.7 151.2h0M379.0 149.1h0M358.3 147.4h0M386.9 153.3h0M348.8 152.5h0M367.5 153.3h0M366.6 148.8h0M388.3 150.4h0M355.1 152.8h0M360.2 144.1h0M384.5 147.1h0M352.0 145.2h0M353.8 144.2h0M361.9 153.6h0M391.4 152.6h0M384.5 149.4h0M363.2 150.1h0M387.0 149.6h0M378.2 150.9h0M369.7 145.6h0M377.1 150.2h0M368.8 143.2h0M350.4 148.6h0M361.6 150.2h0M368.3 145.1h0M369.5 146.9h0M392.5 144.0h0M371.9 145.6h0M371.0 152.7h0M375.3 152.5h0M368.5 150.3h0M391.2 146.7h0M391.9 148.8h0M370.1 143.3h0M366.3 148.4h0M360.9 151.8h0M367.5 144.4h0M373.3 150.6h0M350.1 144.3h0M384.0 146.0h0M392.0 152.9h0M387.5 146.7h0M390.7 144.9h0M372.8 147.2h0M385.2 150.8h0M387.7 152.3h0M377.1 151.9h0M376.6 145.7h0M387.5 146.0h0M354.4 149.5h0M377.6 153.1h0M374.5 144.4h0M371.7 151.0h0M365.8 146.8h0M381.3 146.7h0M382.1 145.6h0M380.6 151.8h0M374.0 150.3h0M351.5 148.3h0M372.2 153.5h0M367.0 148.5h0M359.2 153.0h0M380.3 149.9h0M385.5 143.8h0M370.5 147.5h0M364.5 147.1h0M392.6 150.9h0M349.3 148.7h0M374.1 150.1h0M389.8 153.0h0M358.7 152.3h0M381.1 143.6h0M381.4 144.1h0M348.7 148.1h0M376.2 151.5h0M388.2 152.1h0M390.5 143.6h0M385.4 150.3h0M390.6 152.1h0M370.1 149.0h0M354.3 150.1h0M385.4 146.9h0M364.4 147.3h0M355.7 153.9h0M361.5 151.7h0M352.0 147.1h0M375.6 147.0h0M360.8 152.3h0M356.9 150.7h0M381.3 143.4h0M352.7 152.5h0M363.3 145.7h0M360.1 148.4h0M368.5 153.9h0M386.7 144.7h0M385.6 149.8h0M367.3 147.0h0M392.4 149.1h0M361.4 149.3h0M373.7 147.5h0M390.3 148.1h0M385.0 149.4h0M368.4 144.2h0M360.8 151.2h0M372.6 153.1h0M376.8 143.3h0M379.0 144.3h0M378.7 147.4h0M387.1 147.1h0M390.7 151.3h0M381.5 148.0h0M365.7 146.5h0M386.1 148.1h0M380.2 150.0h0M386.7 150.3h0M376.1 147.9h0M371.1 144.0h0M379.7 148.0h0M380.1 146.6h0M362.9 151.1h0M375.4 152.9h0M384.5 145.9h0M376.9 150.9h0M392.0 146.2h0M386.8 146.5h0M373.1 151.4h0M356.1 151.8h0M376.6 146.0h0M369.6 151.8h0M378.5 153.0h0M373.3 153.9h0M354.1 149.9h0M369.2 152.5h0M391.4 144.0h0M376.5 153.3h0M378.9 145.4h0M363.1 152.8h0M380.7 147.5h0M365.7 151.3h0M389.8 153.3h0M362.0 149.3h0M374.5 151.7h0M374.7 153.1h0M371.9 153.4h0M365.5 146.6h0M391.4 149.8h0M360.3 145.3h0M387.6 146.0h0M378.3 148.2h0M350.6 151.6h0M373.4 151.8h0M392.4 147.9h0M381.7 153.1h0M356.3 143.5h0M377.7 150.0h0M355.2 153.2h0M377.9 149.0h0M385.4 152.4h0M363.6 149.2h0M371.0 152.8h0M385.4 152.7h0M368.8 148.2h0M367.7 150.8h0M380.5 148.8h0M378.8 145.9h0M389.6 149.1h0M366.8 144.0h0M391.4 144.6h0M357.2 148.4h0M387.0 151.4h0M369.3 149.9h0M365.3 149.9h0M360.6 144.3h0M371.2 151.3h0M357.6 143.8h0M374.8 150.9h0M363.6 153.1h0M365.5 143.9h0M391.2 153.2h0M374.8 154.0h0M378.0 147.6h0M371.1 151.5h0M368.9 153.7h0M377.5 145.8h0M351.9 145.8h0M392.0 149.9h0M385.8 148.3h0M360.3 146.9h0M364.2 152.7h0M382.7 152.4h0M390.0 152.3h0M362.5 145.5h0M385.6 150.1h0M375.4 143.7h0M361.1 151.6h0M352.7 152.9h0M380.4 151.4h0M371.0 148.3h0M374.3 148.4h0M366.0 146.7h0M357.5 146.3h0M375.4 149.6h0M369.4 148.8h0M366.8 148.3h0M369.4 145.0h0M359.8 145.3h0M385.3 153.4h0M389.7 145.3h0M377.5 152.4h0M385.5 148.0h0M358.4 148.2h0M375.3 147.2h0M366.7 151.5h0M383.2 143.8h0M389.4 153.4h0M373.2 153.6h0M352.0 148.6h0M383.7 146.7h0M382.6 149.9h0M389.8 153.0h0M360.0 146.2h0M385.0 145.6h0M387.5 147.5h0M376.6 146.7h0M380.2 151.7h0M389.6 148.5h0M357.3 146.2h0M375.3 154.0h0M372.8 146.4h0M378.0 152.1h0M369.4 146.4h0M388.6 152.0h0M373.8 153.5h0M387.2 151.2h0M370.2 101.0h0M373.1 102.5h0M364.4 106.2h0M377.1 110.6h0M352.3 113.2h0M362.7 113.2h0M385.7 113.5h0M347.1 116.0h0M378.3 115.2h0M382.9 115.8h0M376.0 119.0h0M388.1 120.6h0M352.3 122.1h0M371.9 122.7h0M367.9 125.6h0M378.8 123.8h0M380.6 125.2h0M343.1 129.4h0M382.9 128.4h0M356.9 128.4h0M351.7 131.7h0M355.8 132.5h0M359.2 133.6h0M375.9 129.6h0M378.8 132.5h0M382.9 132.5h0M369.0 136.0h0M373.6 138.3h0M375.4 138.3h0M379.4 136.5h0M351.1 137.7h0M354.0 138.3h0M359.8 138.6h0M369.6 140.3h0M354.6 141.7h0M385.7 141.1h0M388.1 142.3h0M358.0 126.0h0M357.5 124.5h0M327.6 129.2h0M389.0 104.0h0M391.0 110.0h0"/>
<path stroke="#42206a" stroke-width="2.5" stroke-linecap="round" fill="none" d="M411.2 139.8h0M420.5 154.5h0M435.3 154.3h0M421.5 149.8h0M411.3 127.4h0M433.1 141.2h0M435.3 147.4h0M421.2 151.5h0M421.9 131.7h0M398.4 147.5h0M427.8 151.8h0M396.4 149.6h0M436.0 144.1h0M422.4 139.7h0M436.8 141.0h0M436.3 140.4h0M395.6 153.9h0M419.3 148.4h0M425.8 132.5h0M433.3 149.8h0M423.7 153.9h0M422.6 139.1h0M398.1 140.0h0M401.6 146.3h0M429.9 153.5h0M397.6 144.7h0M411.3 130.2h0M401.4 145.1h0M444.3 149.8h0M413.7 130.3h0M415.3 127.2h0M421.7 147.8h0M402.8 139.5h0M398.1 153.6h0M430.9 134.6h0M434.5 151.3h0M417.6 129.3h0M443.2 153.2h0M425.8 133.6h0M419.9 149.6h0M404.9 132.2h0M411.3 148.0h0M414.3 133.1h0M443.6 153.4h0M422.3 145.3h0M398.6 146.2h0M424.5 143.3h0M415.8 143.5h0M425.6 143.0h0M401.3 135.7h0M431.3 146.5h0M406.4 134.1h0M417.8 141.8h0M429.2 146.6h0M425.6 134.7h0M420.8 139.8h0M437.1 151.7h0M401.4 143.7h0M435.6 154.4h0M436.7 152.1h0M442.8 149.8h0M433.8 146.4h0M438.2 148.1h0M406.2 149.3h0M431.7 143.5h0M416.1 144.1h0M431.6 137.8h0M432.6 140.2h0M411.1 130.4h0M440.3 144.9h0M439.2 142.2h0M423.6 138.0h0M404.1 140.3h0M433.7 151.0h0M434.5 138.1h0M408.8 148.5h0M444.2 150.0h0M420.3 154.5h0M433.5 135.8h0M418.6 149.8h0M435.5 153.1h0M439.8 147.3h0M414.9 137.8h0M420.7 143.5h0M435.0 154.5h0M407.5 154.5h0M414.9 151.7h0M431.0 136.5h0M435.3 151.6h0M444.1 150.8h0M409.5 136.6h0M413.6 145.2h0M397.9 149.2h0M412.9 142.7h0M429.3 135.7h0M394.9 154.6h0M446.1 151.6h0M442.9 153.2h0M435.1 150.7h0M422.1 129.2h0M411.5 136.7h0M440.1 147.0h0M395.6 154.5h0M427.1 136.4h0M415.6 149.1h0M413.4 144.9h0M438.7 151.1h0M399.0 152.0h0M435.6 142.2h0M428.2 149.5h0M422.1 135.6h0M408.8 139.1h0M432.2 143.4h0M444.9 146.6h0M432.3 152.3h0M412.1 142.0h0M410.3 154.5h0M418.3 153.6h0M420.0 152.9h0M445.6 153.2h0M438.5 143.3h0M440.2 150.5h0M416.1 138.0h0M403.0 136.4h0M424.3 151.5h0M403.2 146.2h0M426.9 152.3h0M421.3 154.2h0M393.5 153.7h0M414.6 132.4h0M432.6 147.6h0M435.1 139.7h0M400.4 145.0h0M422.5 140.2h0M420.7 139.4h0M428.3 136.1h0M397.7 140.3h0M412.5 149.6h0M435.5 147.8h0M419.9 136.1h0M418.1 131.0h0M424.8 144.4h0M444.3 147.6h0M435.5 143.5h0M446.7 150.8h0M432.7 149.4h0M421.4 149.8h0M399.8 147.1h0M428.6 140.8h0M409.4 131.9h0M438.9 142.8h0M436.5 154.2h0M428.6 150.0h0M443.8 147.1h0M442.6 153.8h0M422.4 147.8h0M397.2 154.6h0M429.9 140.0h0M410.4 145.7h0M429.4 153.3h0M436.6 150.7h0M401.3 147.4h0M404.7 134.6h0M399.1 152.1h0M435.2 147.1h0M437.2 153.0h0M439.1 151.7h0M425.4 145.0h0M426.7 133.7h0M410.8 143.7h0M396.8 140.8h0M438.7 144.3h0M429.7 145.2h0M403.1 151.7h0M435.7 149.5h0M442.3 150.6h0M406.9 148.4h0M417.8 139.1h0M441.1 153.2h0M436.1 139.7h0M423.2 148.8h0M434.3 142.8h0M430.5 154.3h0M423.5 130.2h0M400.9 142.9h0M446.0 153.7h0M430.9 144.5h0M422.9 132.9h0M445.4 149.6h0M402.3 148.2h0M438.5 140.5h0M426.5 151.0h0M394.1 150.8h0M409.9 143.0h0M443.3 145.7h0M443.7 151.8h0M393.7 149.4h0M417.7 149.8h0M433.1 136.6h0M415.8 137.3h0M404.2 152.8h0M422.4 146.9h0M442.5 150.3h0M417.2 143.5h0M440.3 145.6h0M445.8 149.7h0M444.5 147.4h0M402.4 147.4h0M435.0 145.9h0M437.5 152.3h0M445.3 149.5h0M427.6 150.5h0M425.7 147.7h0M406.2 148.2h0M404.5 142.0h0M419.4 143.8h0M406.5 133.9h0M432.3 137.6h0M429.6 152.0h0M443.7 153.8h0M441.8 151.4h0M426.6 133.1h0M421.8 135.7h0M444.2 151.0h0M394.0 153.7h0M421.0 145.4h0M432.3 152.0h0M425.0 154.3h0M413.9 138.6h0M399.8 149.1h0M421.5 146.9h0M401.5 151.7h0M443.8 146.8h0M408.3 132.5h0M446.6 152.8h0M394.3 151.2h0M435.3 138.9h0M439.3 152.7h0M403.6 153.0h0M434.2 140.6h0M403.6 144.1h0M417.8 149.7h0M438.6 145.4h0M437.6 144.6h0M421.8 146.9h0M433.4 146.6h0M400.4 136.8h0M416.4 152.6h0M409.4 149.5h0M401.0 136.9h0M398.5 151.2h0M441.7 144.1h0M407.1 149.5h0M396.0 154.0h0M428.7 132.9h0M439.9 154.0h0M412.8 139.5h0M441.0 151.1h0M429.8 144.9h0M433.4 135.6h0M426.9 154.4h0M420.9 154.4h0M397.6 153.7h0M397.3 147.1h0M425.9 147.9h0M409.3 146.2h0M440.5 142.1h0M433.6 138.5h0M426.5 139.3h0M395.0 153.8h0M422.0 139.9h0M412.6 143.0h0M409.5 148.3h0M428.3 132.2h0M413.7 148.3h0M428.4 146.4h0M400.2 153.0h0M414.0 136.4h0M417.9 150.8h0M424.4 151.3h0M435.8 139.8h0M400.2 147.3h0M433.0 141.9h0M421.0 141.2h0M431.3 152.4h0M410.0 129.6h0M435.7 153.3h0M395.4 153.9h0M398.0 152.8h0M413.4 150.0h0M422.3 141.8h0M413.8 146.6h0M436.4 140.8h0M429.7 152.8h0M413.1 142.2h0M432.6 140.1h0M428.4 150.0h0M428.9 135.4h0M434.7 149.3h0M442.1 152.0h0M414.3 147.0h0M436.0 142.5h0M439.4 150.9h0M431.1 151.3h0M409.4 141.4h0M446.9 152.8h0M419.0 149.9h0M419.8 131.7h0M419.5 147.8h0M422.5 153.7h0M395.4 154.6h0M444.4 154.5h0M421.0 134.7h0M411.3 135.7h0M446.4 153.3h0M423.2 134.6h0M439.2 144.8h0M394.9 153.7h0M437.6 148.6h0M417.2 146.5h0M413.5 148.0h0M395.8 147.3h0M425.1 136.5h0M426.9 153.6h0M393.2 150.3h0M438.9 147.0h0M431.3 143.0h0M399.7 151.1h0M427.6 152.7h0M425.2 141.7h0M426.4 131.8h0M429.9 144.4h0M445.8 154.5h0M445.7 149.4h0M436.8 148.2h0M439.1 146.7h0M428.9 134.4h0M399.1 143.1h0M402.1 146.1h0M436.5 151.2h0M433.2 142.2h0M444.1 146.3h0M414.9 131.5h0M425.3 153.6h0M439.5 150.9h0M445.5 147.3h0M411.8 148.2h0M425.6 142.3h0M412.3 141.8h0M414.9 151.2h0M438.3 152.9h0M441.4 149.7h0M408.6 143.0h0M425.4 148.4h0M420.2 140.8h0M435.6 152.8h0M434.1 142.5h0M443.1 148.4h0M410.0 140.3h0M404.5 151.9h0M404.0 154.5h0M439.5 154.1h0M445.4 153.0h0M438.8 152.1h0M422.1 146.8h0M440.5 147.1h0M401.6 153.7h0M412.3 152.7h0M417.1 147.5h0M439.3 151.7h0M420.9 153.7h0M412.2 140.2h0M428.3 150.8h0M430.4 143.1h0M435.1 152.1h0M435.7 152.8h0M440.9 148.4h0M414.0 146.6h0M437.9 147.2h0M419.3 149.9h0M435.4 149.4h0M429.4 152.3h0M403.8 138.6h0M424.9 134.3h0M410.0 147.7h0M415.6 128.0h0M446.4 148.1h0M409.1 150.2h0M425.3 151.3h0M408.2 144.5h0M441.1 143.7h0M413.2 140.9h0M423.2 134.0h0M393.3 153.7h0M423.1 149.5h0M441.5 151.9h0M404.9 150.7h0M438.8 140.4h0M419.5 136.8h0M441.9 144.2h0M443.0 154.5h0M433.7 138.3h0M441.5 149.9h0M408.0 148.6h0M403.6 153.7h0M426.8 134.4h0M403.3 148.9h0M395.7 154.3h0M435.3 146.5h0M400.4 148.1h0M414.3 138.1h0M417.4 128.1h0M399.8 151.9h0M438.5 148.1h0M406.6 133.7h0M408.5 150.0h0M425.1 136.9h0M444.7 147.7h0M425.9 138.3h0M439.4 149.9h0M420.1 135.8h0M431.6 139.3h0M421.3 146.5h0M419.5 152.2h0M430.5 142.7h0M423.4 132.1h0M442.0 149.6h0M426.0 151.0h0M425.1 153.0h0M445.7 153.2h0M438.4 150.1h0M439.6 145.9h0M404.4 138.4h0M396.9 148.6h0M427.2 137.3h0M432.6 150.1h0M446.1 149.2h0M427.7 135.1h0M397.4 140.7h0M405.3 147.4h0M429.0 145.4h0M395.6 143.1h0M420.8 143.0h0M444.5 154.5h0M405.8 151.7h0M402.0 146.5h0M438.2 140.5h0M413.4 142.2h0M416.7 148.3h0M405.5 134.8h0M433.6 151.4h0M398.3 153.0h0M406.7 144.1h0M407.7 145.0h0M427.4 146.9h0M431.8 144.3h0M438.3 142.5h0M438.5 153.1h0M395.0 154.4h0M406.0 132.5h0M427.6 154.1h0M400.4 146.0h0M414.0 147.9h0M432.0 154.1h0M418.6 129.3h0M411.5 144.7h0M433.7 150.1h0M413.2 151.0h0M410.7 133.0h0M437.7 142.3h0M419.8 112.9h0M439.7 107.4h0M442.3 139.1h0M425.2 125.1h0M449.1 134.9h0M428.5 130.7h0M436.6 112.0h0M433.1 114.0h0M422.2 100.8h0M395.3 139.2h0M434.1 128.9h0M421.4 119.1h0M408.9 119.0h0M410.7 122.1h0M424.9 113.6h0M409.6 123.9h0M430.7 112.7h0M420.3 113.2h0M414.6 126.5h0M446.5 133.9h0M439.8 131.8h0M444.8 142.2h0M427.6 101.1h0M435.1 125.6h0M409.4 123.9h0M451.7 142.5h0M426.2 114.3h0M434.8 125.1h0M427.2 114.7h0M432.0 115.3h0M408.8 125.5h0M452.0 147.0h0M431.4 102.1h0M439.1 135.5h0M427.9 109.3h0M424.0 124.8h0M428.3 108.9h0M444.4 135.1h0M414.5 114.6h0M402.0 132.6h0M442.6 125.2h0M424.3 107.0h0M436.3 104.6h0M435.0 106.6h0M430.4 93.8h0M453.9 147.6h0M446.2 147.4h0M430.1 98.3h0M440.8 141.2h0M442.4 135.4h0M419.8 103.5h0M448.1 134.3h0M432.2 111.9h0M425.9 99.1h0M408.4 126.2h0M435.3 132.3h0M433.6 132.8h0M430.5 93.4h0M430.9 108.0h0M436.1 134.6h0M410.5 125.0h0M407.5 123.9h0M434.0 118.9h0M437.3 104.8h0M448.5 135.0h0M425.1 104.4h0M435.3 122.4h0M434.2 119.7h0M424.7 119.8h0M430.5 130.3h0M431.2 85.0h0M428.2 88.4h0M455.9 89.6h0M469.4 87.0h0M478.5 145.2h0M452.0 150.0h0M453.0 140.0h0M450.0 122.0h0M450.0 132.0h0M448.0 145.0h0"/>
<circle cx="289.40" cy="36.80" r="3.1" fill="#5ea13a" stroke="none" stroke-width="0" />
<text transform="translate(292.50 34.00) scale(0.93 1)" font-size="6.99" fill="#8abb6c" stroke="#8abb6c" stroke-width="0.16" text-anchor="start" font-weight="normal">MBNL1</text>
<circle cx="330.20" cy="53.80" r="1.3" fill="#67a83b" stroke="none" stroke-width="0" />
<circle cx="343.40" cy="75.90" r="1.3" fill="#67a83b" stroke="none" stroke-width="0" />
<circle cx="487.70" cy="22.90" r="4.6" fill="#45205f" stroke="none" stroke-width="0" />
<text transform="translate(481.20 34.70) scale(0.93 1)" font-size="7.74" fill="#4a4052" stroke="#4a4052" stroke-width="0.1" text-anchor="middle" font-weight="bold">GR</text>
<circle cx="434.70" cy="76.20" r="3.0" fill="#45205f" stroke="none" stroke-width="0" />
<text transform="translate(437.00 73.20) scale(0.93 1)" font-size="6.99" fill="#7d5e98" stroke="#7d5e98" stroke-width="0.16" text-anchor="start" font-weight="normal">BRD4</text>
<circle cx="359.80" cy="122.10" r="4.4" fill="#5ea13a" stroke="none" stroke-width="0" />
<line x1="337.90" y1="115.80" x2="355.40" y2="120.40" stroke="#5ea13a" stroke-width="1.1" />
<text transform="translate(336.50 116.00) scale(0.93 1)" font-size="6.99" fill="#6aab45" stroke="#6aab45" stroke-width="0.16" text-anchor="end" font-weight="bold">PIK3CD</text>
<path d="M279.7 15.7 V173.95 H497.1 V15.7 Z" fill="none" stroke="#000" stroke-width="1.5"/>
<line x1="276.30" y1="166.80" x2="279.70" y2="166.80" stroke="#111" stroke-width="1.2" />
<text transform="translate(273.70 169.70) scale(0.93 1)" font-size="8.60" fill="#222" stroke="#222" stroke-width="0.1" text-anchor="end" font-weight="normal">0</text>
<line x1="276.30" y1="120.20" x2="279.70" y2="120.20" stroke="#111" stroke-width="1.2" />
<text transform="translate(273.70 123.10) scale(0.93 1)" font-size="8.60" fill="#222" stroke="#222" stroke-width="0.1" text-anchor="end" font-weight="normal">5</text>
<line x1="276.30" y1="73.60" x2="279.70" y2="73.60" stroke="#111" stroke-width="1.2" />
<text transform="translate(273.70 76.50) scale(0.93 1)" font-size="8.60" fill="#222" stroke="#222" stroke-width="0.1" text-anchor="end" font-weight="normal">10</text>
<line x1="276.30" y1="27.00" x2="279.70" y2="27.00" stroke="#111" stroke-width="1.2" />
<text transform="translate(273.70 29.90) scale(0.93 1)" font-size="8.60" fill="#222" stroke="#222" stroke-width="0.1" text-anchor="end" font-weight="normal">15</text>
<line x1="311.30" y1="173.95" x2="311.30" y2="177.70" stroke="#111" stroke-width="1.2" />
<text transform="translate(311.30 187.70) scale(0.93 1)" font-size="8.60" fill="#222" stroke="#222" stroke-width="0.1" text-anchor="middle" font-weight="normal">−1.0</text>
<line x1="352.05" y1="173.95" x2="352.05" y2="177.70" stroke="#111" stroke-width="1.2" />
<text transform="translate(352.05 187.70) scale(0.93 1)" font-size="8.60" fill="#222" stroke="#222" stroke-width="0.1" text-anchor="middle" font-weight="normal">−0.5</text>
<line x1="392.80" y1="173.95" x2="392.80" y2="177.70" stroke="#111" stroke-width="1.2" />
<text transform="translate(392.80 187.70) scale(0.93 1)" font-size="8.60" fill="#222" stroke="#222" stroke-width="0.1" text-anchor="middle" font-weight="normal">0.0</text>
<line x1="433.55" y1="173.95" x2="433.55" y2="177.70" stroke="#111" stroke-width="1.2" />
<text transform="translate(433.55 187.70) scale(0.93 1)" font-size="8.60" fill="#222" stroke="#222" stroke-width="0.1" text-anchor="middle" font-weight="normal">0.5</text>
<line x1="474.30" y1="173.95" x2="474.30" y2="177.70" stroke="#111" stroke-width="1.2" />
<text transform="translate(474.30 187.70) scale(0.93 1)" font-size="8.60" fill="#222" stroke="#222" stroke-width="0.1" text-anchor="middle" font-weight="normal">1.0</text>
<text x="0" y="0" font-size="9" fill="#222" text-anchor="middle" transform="translate(257.9 95.3) rotate(-90)">-log10(<tspan font-style="italic">p</tspan>-value)</text>
<circle cx="375.80" cy="28.50" r="1.8" fill="#c0c0c0" stroke="none" stroke-width="0" />
<text transform="translate(380.80 31.20) scale(0.93 1)" font-size="8.17" fill="#222" stroke="#222" stroke-width="0.1" text-anchor="start" font-weight="normal">p-value &gt; 0.05</text>
<circle cx="375.80" cy="38.80" r="1.8" fill="#3f1d5c" stroke="none" stroke-width="0" />
<text transform="translate(380.80 41.50) scale(0.93 1)" font-size="8.17" fill="#222" stroke="#222" stroke-width="0.1" text-anchor="start" font-weight="normal">Protective</text>
<circle cx="375.80" cy="48.50" r="1.8" fill="#67a83b" stroke="none" stroke-width="0" />
<text transform="translate(380.80 51.60) scale(0.93 1)" font-size="8.17" fill="#222" stroke="#222" stroke-width="0.1" text-anchor="start" font-weight="normal">Sensitizing</text>
<text transform="translate(7.60 219.30) scale(0.93 1)" font-size="11.61" fill="#000" stroke="#000" stroke-width="0.1" text-anchor="start" font-weight="bold">C</text>
<path d="M29.6 225.5 V374.5 H238.35 V225.5 Z" fill="none" stroke="#000" stroke-width="1.5"/>
<line x1="26.30" y1="367.40" x2="29.60" y2="367.40" stroke="#111" stroke-width="1.2" />
<text transform="translate(23.60 370.30) scale(0.93 1)" font-size="8.60" fill="#222" stroke="#222" stroke-width="0.1" text-anchor="end" font-weight="normal">0</text>
<line x1="26.30" y1="331.40" x2="29.60" y2="331.40" stroke="#111" stroke-width="1.2" />
<text transform="translate(23.60 334.30) scale(0.93 1)" font-size="8.60" fill="#222" stroke="#222" stroke-width="0.1" text-anchor="end" font-weight="normal">2</text>
<line x1="26.30" y1="295.40" x2="29.60" y2="295.40" stroke="#111" stroke-width="1.2" />
<text transform="translate(23.60 298.30) scale(0.93 1)" font-size="8.60" fill="#222" stroke="#222" stroke-width="0.1" text-anchor="end" font-weight="normal">4</text>
<line x1="26.30" y1="259.40" x2="29.60" y2="259.40" stroke="#111" stroke-width="1.2" />
<text transform="translate(23.60 262.30) scale(0.93 1)" font-size="8.60" fill="#222" stroke="#222" stroke-width="0.1" text-anchor="end" font-weight="normal">6</text>
<line x1="38.90" y1="374.50" x2="38.90" y2="378.20" stroke="#111" stroke-width="1.2" />
<text transform="translate(38.90 388.00) scale(0.93 1)" font-size="8.60" fill="#222" stroke="#222" stroke-width="0.1" text-anchor="middle" font-weight="normal">−0.50</text>
<line x1="86.33" y1="374.50" x2="86.33" y2="378.20" stroke="#111" stroke-width="1.2" />
<text transform="translate(86.33 388.00) scale(0.93 1)" font-size="8.60" fill="#222" stroke="#222" stroke-width="0.1" text-anchor="middle" font-weight="normal">−0.25</text>
<line x1="133.75" y1="374.50" x2="133.75" y2="378.20" stroke="#111" stroke-width="1.2" />
<text transform="translate(133.75 388.00) scale(0.93 1)" font-size="8.60" fill="#222" stroke="#222" stroke-width="0.1" text-anchor="middle" font-weight="normal">0.00</text>
<line x1="181.18" y1="374.50" x2="181.18" y2="378.20" stroke="#111" stroke-width="1.2" />
<text transform="translate(181.18 388.00) scale(0.93 1)" font-size="8.60" fill="#222" stroke="#222" stroke-width="0.1" text-anchor="middle" font-weight="normal">0.25</text>
<line x1="228.60" y1="374.50" x2="228.60" y2="378.20" stroke="#111" stroke-width="1.2" />
<text transform="translate(228.60 388.00) scale(0.93 1)" font-size="8.60" fill="#222" stroke="#222" stroke-width="0.1" text-anchor="middle" font-weight="normal">0.50</text>
<text x="0" y="0" font-size="8.5" fill="#222" text-anchor="middle" transform="translate(13 298.7) rotate(-90)">-log10(<tspan font-style="italic">p</tspan>-value)</text>
<circle cx="88.50" cy="243.00" r="3.3" fill="#62a13a" stroke="none" stroke-width="0" />
<circle cx="51.10" cy="284.20" r="3.3" fill="#62a13a" stroke="none" stroke-width="0" />
<circle cx="51.10" cy="292.50" r="3.3" fill="#62a13a" stroke="none" stroke-width="0" />
<circle cx="123.70" cy="278.70" r="3.3" fill="#62a13a" stroke="none" stroke-width="0" />
<circle cx="79.20" cy="309.00" r="3.3" fill="#62a13a" stroke="none" stroke-width="0" />
<circle cx="58.50" cy="315.80" r="3.3" fill="#62a13a" stroke="none" stroke-width="0" />
<circle cx="72.00" cy="326.30" r="3.3" fill="#62a13a" stroke="none" stroke-width="0" />
<circle cx="99.80" cy="333.10" r="3.3" fill="#62a13a" stroke="none" stroke-width="0" />
<circle cx="98.60" cy="351.20" r="3.3" fill="#a5cc86" stroke="none" stroke-width="0" />
<circle cx="98.60" cy="359.90" r="3.3" fill="#c3c3c5" stroke="none" stroke-width="0" />
<circle cx="121.00" cy="356.00" r="3.3" fill="#c3c3c5" stroke="none" stroke-width="0" />
<circle cx="115.00" cy="361.20" r="3.3" fill="#c3c3c5" stroke="none" stroke-width="0" />
<circle cx="131.30" cy="355.00" r="3.3" fill="#c3c3c5" stroke="none" stroke-width="0" />
<circle cx="204.70" cy="293.80" r="3.3" fill="#45205f" stroke="none" stroke-width="0" />
<circle cx="206.20" cy="304.70" r="3.3" fill="#45205f" stroke="none" stroke-width="0" />
<circle cx="172.30" cy="312.80" r="3.3" fill="#45205f" stroke="none" stroke-width="0" />
<circle cx="139.80" cy="334.30" r="3.3" fill="#45205f" stroke="none" stroke-width="0" />
<circle cx="178.70" cy="351.60" r="3.3" fill="#9a82b3" stroke="none" stroke-width="0" />
<circle cx="173.20" cy="359.80" r="3.3" fill="#c3c3c5" stroke="none" stroke-width="0" />
<circle cx="170.90" cy="362.10" r="3.3" fill="#c3c3c5" stroke="none" stroke-width="0" />
<circle cx="157.80" cy="367.00" r="3.3" fill="#c3c3c5" stroke="none" stroke-width="0" />
<text transform="translate(82.60 241.70) scale(0.93 1)" font-size="6.99" fill="#85b865" stroke="#85b865" stroke-width="0.16" text-anchor="end" font-weight="normal">NRAS</text>
<text transform="translate(51.70 279.70) scale(0.93 1)" font-size="6.99" fill="#85b865" stroke="#85b865" stroke-width="0.16" text-anchor="start" font-weight="normal">TCF4</text>
<text transform="translate(52.20 303.50) scale(0.93 1)" font-size="6.99" fill="#85b865" stroke="#85b865" stroke-width="0.16" text-anchor="end" font-weight="normal">SPI1</text>
<text transform="translate(120.00 276.70) scale(0.93 1)" font-size="6.99" fill="#85b865" stroke="#85b865" stroke-width="0.16" text-anchor="end" font-weight="normal">PAX5</text>
<text transform="translate(61.80 303.50) scale(0.93 1)" font-size="6.99" fill="#85b865" stroke="#85b865" stroke-width="0.16" text-anchor="start" font-weight="normal">CREBBP</text>
<text transform="translate(57.70 327.20) scale(0.93 1)" font-size="6.99" fill="#85b865" stroke="#85b865" stroke-width="0.16" text-anchor="end" font-weight="normal">EBF1</text>
<text transform="translate(42.60 339.00) scale(0.93 1)" font-size="6.99" fill="#85b865" stroke="#85b865" stroke-width="0.16" text-anchor="start" font-weight="normal">CDKN2B</text>
<text transform="translate(81.60 328.30) scale(0.93 1)" font-size="6.99" fill="#85b865" stroke="#85b865" stroke-width="0.16" text-anchor="start" font-weight="normal">CTCF</text>
<text transform="translate(92.90 348.30) scale(0.93 1)" font-size="6.99" fill="#a9cc8e" stroke="#a9cc8e" stroke-width="0.16" text-anchor="end" font-weight="normal">FLT3</text>
<text transform="translate(93.50 372.20) scale(0.93 1)" font-size="6.99" fill="#c6c6c8" stroke="#c6c6c8" stroke-width="0.16" text-anchor="end" font-weight="normal">PTPN11</text>
<text transform="translate(107.60 346.80) scale(0.93 1)" font-size="6.99" fill="#c6c6c8" stroke="#c6c6c8" stroke-width="0.16" text-anchor="start" font-weight="normal">KRAS</text>
<text transform="translate(112.70 373.00) scale(0.93 1)" font-size="6.99" fill="#c6c6c8" stroke="#c6c6c8" stroke-width="0.16" text-anchor="start" font-weight="normal">TUSC3</text>
<text transform="translate(136.00 354.80) scale(0.93 1)" font-size="6.99" fill="#c6c6c8" stroke="#c6c6c8" stroke-width="0.16" text-anchor="start" font-weight="normal">BTG1</text>
<text transform="translate(170.00 309.00) scale(0.93 1)" font-size="6.99" fill="#3d2a4f" stroke="#3d2a4f" stroke-width="0.16" text-anchor="end" font-weight="normal">NF1</text>
<text transform="translate(210.60 304.50) scale(0.93 1)" font-size="6.99" fill="#3d2a4f" stroke="#3d2a4f" stroke-width="0.16" text-anchor="start" font-weight="normal">ETV6</text>
<text transform="translate(205.60 289.80) scale(0.93 1)" font-size="6.99" fill="#3d2a4f" stroke="#3d2a4f" stroke-width="0.16" text-anchor="start" font-weight="normal">NCOR</text>
<text transform="translate(141.60 330.00) scale(0.93 1)" font-size="6.99" fill="#3d2a4f" stroke="#3d2a4f" stroke-width="0.16" text-anchor="start" font-weight="normal">WHSC1</text>
<text transform="translate(176.40 347.90) scale(0.93 1)" font-size="6.99" fill="#7d6c96" stroke="#7d6c96" stroke-width="0.16" text-anchor="end" font-weight="normal">TP53</text>
<text transform="translate(187.20 360.60) scale(0.93 1)" font-size="6.99" fill="#c6c6c8" stroke="#c6c6c8" stroke-width="0.16" text-anchor="start" font-weight="normal">TCF3</text>
<text transform="translate(184.00 367.70) scale(0.93 1)" font-size="6.99" fill="#c6c6c8" stroke="#c6c6c8" stroke-width="0.16" text-anchor="start" font-weight="normal">ERG</text>
<text transform="translate(161.70 373.30) scale(0.93 1)" font-size="6.99" fill="#c6c6c8" stroke="#c6c6c8" stroke-width="0.16" text-anchor="start" font-weight="normal">FBXW7</text>
<line x1="68.40" y1="330.50" x2="72.00" y2="326.30" stroke="#62a13a" stroke-width="1.1" />
<line x1="120.90" y1="347.40" x2="120.90" y2="355.00" stroke="#c6c6c8" stroke-width="0.7" />
<line x1="185.00" y1="358.50" x2="174.50" y2="359.60" stroke="#c6c6c8" stroke-width="0.7" />
<line x1="183.00" y1="365.50" x2="172.50" y2="362.40" stroke="#c6c6c8" stroke-width="0.7" />
<text transform="translate(103.60 399.20) scale(0.93 1)" font-size="8.60" fill="#111" stroke="#111" stroke-width="0.1" text-anchor="end" font-weight="bold">Sensitizing</text>
<text transform="translate(163.30 399.20) scale(0.93 1)" font-size="8.60" fill="#111" stroke="#111" stroke-width="0.1" text-anchor="start" font-weight="bold">Protective</text>
<line x1="110.80" y1="396.30" x2="154.60" y2="396.30" stroke="#111" stroke-width="1.6" />
<path d="M105.8 396.3 L114.8 392.3 L112.3 396.3 L114.8 400.3 Z" fill="#111"/>
<path d="M159.6 396.3 L150.6 392.3 L153.1 396.3 L150.6 400.3 Z" fill="#111"/>
<line x1="133.75" y1="390.70" x2="133.75" y2="401.90" stroke="#111" stroke-width="1.3" />
<text transform="translate(360.80 199.40) scale(0.93 1)" font-size="8.60" fill="#111" stroke="#111" stroke-width="0.1" text-anchor="end" font-weight="bold">Sensitizing</text>
<text transform="translate(424.50 199.40) scale(0.93 1)" font-size="8.60" fill="#111" stroke="#111" stroke-width="0.1" text-anchor="start" font-weight="bold">Protective</text>
<line x1="369.50" y1="196.50" x2="415.80" y2="196.50" stroke="#111" stroke-width="1.6" />
<path d="M364.5 196.5 L373.5 192.5 L371.0 196.5 L373.5 200.5 Z" fill="#111"/>
<path d="M420.8 196.5 L411.8 192.5 L414.3 196.5 L411.8 200.5 Z" fill="#111"/>
<line x1="392.70" y1="190.90" x2="392.70" y2="202.10" stroke="#111" stroke-width="1.3" />
<text transform="translate(252.60 219.30) scale(0.93 1)" font-size="11.61" fill="#000" stroke="#000" stroke-width="0.1" text-anchor="start" font-weight="bold">D</text>
<rect x="401.9" y="225.5" width="111" height="142.9" fill="#cbbfd6"/>
<rect x="279.5" y="370.2" width="120.0" height="68" fill="#d9e5c9"/>
<path stroke="#000" stroke-width="1.9" stroke-linecap="round" fill="none" d="M401.00 369.10h0M401.00 364.71h0M401.00 360.32h0M401.00 355.93h0M401.00 351.54h0M401.00 347.15h0M401.00 342.76h0M401.00 338.37h0M401.00 333.98h0M401.00 329.59h0M401.00 325.20h0M401.00 320.81h0M401.00 316.42h0M401.00 312.03h0M401.00 307.64h0M401.00 303.25h0M401.00 298.86h0M401.00 294.47h0M401.00 290.08h0M401.00 285.69h0M401.00 281.30h0M401.00 276.91h0M401.00 272.52h0M401.00 268.13h0M401.00 263.74h0M401.00 259.35h0M401.00 254.96h0M401.00 250.57h0M401.00 246.18h0M401.00 241.79h0M401.00 237.40h0M401.00 233.01h0M401.00 228.62h0M401.00 373.49h0M401.00 377.88h0M401.00 382.27h0M401.00 386.66h0M401.00 391.05h0M401.00 395.44h0M401.00 399.83h0M401.00 404.22h0M401.00 408.61h0M401.00 413.00h0M401.00 417.39h0M401.00 421.78h0M401.00 426.17h0M401.00 430.56h0M401.00 434.95h0M396.67 369.10h0M392.34 369.10h0M388.01 369.10h0M383.68 369.10h0M379.35 369.10h0M375.02 369.10h0M370.69 369.10h0M366.36 369.10h0M362.03 369.10h0M357.70 369.10h0M353.37 369.10h0M349.04 369.10h0M344.71 369.10h0M340.38 369.10h0M336.05 369.10h0M331.72 369.10h0M327.39 369.10h0M323.06 369.10h0M318.73 369.10h0M314.40 369.10h0M310.07 369.10h0M305.74 369.10h0M301.41 369.10h0M297.08 369.10h0M292.75 369.10h0M288.42 369.10h0M284.09 369.10h0M405.33 369.10h0M409.66 369.10h0M413.99 369.10h0M418.32 369.10h0M422.65 369.10h0M426.98 369.10h0M431.31 369.10h0M435.64 369.10h0M439.97 369.10h0M444.30 369.10h0M448.63 369.10h0M452.96 369.10h0M457.29 369.10h0M461.62 369.10h0M465.95 369.10h0M470.28 369.10h0M474.61 369.10h0M478.94 369.10h0M483.27 369.10h0M487.60 369.10h0M491.93 369.10h0M496.26 369.10h0M500.59 369.10h0M504.92 369.10h0M509.25 369.10h0"/>
<path d="M279.5 225.5 V438.2 H512.9 V225.5 Z" fill="none" stroke="#000" stroke-width="1.5"/>
<line x1="275.80" y1="417.33" x2="279.50" y2="417.33" stroke="#111" stroke-width="1.2" />
<text transform="translate(273.60 420.23) scale(0.93 1)" font-size="8.60" fill="#222" stroke="#222" stroke-width="0.1" text-anchor="end" font-weight="normal">−0.5</text>
<line x1="275.80" y1="369.40" x2="279.50" y2="369.40" stroke="#111" stroke-width="1.2" />
<text transform="translate(273.60 372.30) scale(0.93 1)" font-size="8.60" fill="#222" stroke="#222" stroke-width="0.1" text-anchor="end" font-weight="normal">0.0</text>
<line x1="275.80" y1="321.46" x2="279.50" y2="321.46" stroke="#111" stroke-width="1.2" />
<text transform="translate(273.60 324.36) scale(0.93 1)" font-size="8.60" fill="#222" stroke="#222" stroke-width="0.1" text-anchor="end" font-weight="normal">0.5</text>
<line x1="275.80" y1="273.53" x2="279.50" y2="273.53" stroke="#111" stroke-width="1.2" />
<text transform="translate(273.60 276.43) scale(0.93 1)" font-size="8.60" fill="#222" stroke="#222" stroke-width="0.1" text-anchor="end" font-weight="normal">1.0</text>
<line x1="311.80" y1="438.20" x2="311.80" y2="442.00" stroke="#111" stroke-width="1.2" />
<text transform="translate(311.80 451.00) scale(0.93 1)" font-size="8.60" fill="#222" stroke="#222" stroke-width="0.1" text-anchor="middle" font-weight="normal">−1.0</text>
<line x1="356.55" y1="438.20" x2="356.55" y2="442.00" stroke="#111" stroke-width="1.2" />
<text transform="translate(356.55 451.00) scale(0.93 1)" font-size="8.60" fill="#222" stroke="#222" stroke-width="0.1" text-anchor="middle" font-weight="normal">−0.5</text>
<line x1="401.30" y1="438.20" x2="401.30" y2="442.00" stroke="#111" stroke-width="1.2" />
<text transform="translate(401.30 451.00) scale(0.93 1)" font-size="8.60" fill="#222" stroke="#222" stroke-width="0.1" text-anchor="middle" font-weight="normal">0.0</text>
<line x1="446.05" y1="438.20" x2="446.05" y2="442.00" stroke="#111" stroke-width="1.2" />
<text transform="translate(446.05 451.00) scale(0.93 1)" font-size="8.60" fill="#222" stroke="#222" stroke-width="0.1" text-anchor="middle" font-weight="normal">0.5</text>
<line x1="490.80" y1="438.20" x2="490.80" y2="442.00" stroke="#111" stroke-width="1.2" />
<text transform="translate(490.80 451.00) scale(0.93 1)" font-size="8.60" fill="#222" stroke="#222" stroke-width="0.1" text-anchor="middle" font-weight="normal">1.0</text>
<text x="0" y="0" font-size="9" fill="#222" text-anchor="middle" transform="translate(257.1 332.5) rotate(-90)">Mean log2 dex regulation</text>
<text transform="translate(369.20 462.90) scale(0.93 1)" font-size="8.60" fill="#111" stroke="#111" stroke-width="0.1" text-anchor="end" font-weight="bold">Sensitizing</text>
<text transform="translate(432.60 462.90) scale(0.93 1)" font-size="8.60" fill="#111" stroke="#111" stroke-width="0.1" text-anchor="start" font-weight="bold">Protective</text>
<line x1="377.00" y1="460.00" x2="423.00" y2="460.00" stroke="#111" stroke-width="1.6" />
<path d="M372.0 460.0 L381.0 456.0 L378.5 460.0 L381.0 464.0 Z" fill="#111"/>
<path d="M428.0 460.0 L419.0 456.0 L421.5 460.0 L419.0 464.0 Z" fill="#111"/>
<line x1="400.80" y1="454.40" x2="400.80" y2="465.60" stroke="#111" stroke-width="1.3" />
<circle cx="429.80" cy="233.60" r="1.6" fill="#000" stroke="#1e1e1e" stroke-width="1.0" fill-opacity="0.2"/>
<circle cx="426.60" cy="266.20" r="1.6" fill="#000" stroke="#1e1e1e" stroke-width="1.0" fill-opacity="0.2"/>
<circle cx="389.20" cy="272.00" r="1.6" fill="#000" stroke="#1e1e1e" stroke-width="1.0" fill-opacity="0.2"/>
<circle cx="396.50" cy="291.40" r="1.6" fill="#000" stroke="#1e1e1e" stroke-width="1.0" fill-opacity="0.2"/>
<circle cx="388.00" cy="292.40" r="1.6" fill="#000" stroke="#1e1e1e" stroke-width="1.0" fill-opacity="0.2"/>
<circle cx="356.10" cy="306.00" r="1.6" fill="#000" stroke="#1e1e1e" stroke-width="1.0" fill-opacity="0.2"/>
<circle cx="415.20" cy="287.40" r="1.6" fill="#000" stroke="#1e1e1e" stroke-width="1.0" fill-opacity="0.2"/>
<circle cx="420.60" cy="306.60" r="1.6" fill="#000" stroke="#1e1e1e" stroke-width="1.0" fill-opacity="0.2"/>
<circle cx="426.00" cy="302.60" r="1.6" fill="#000" stroke="#1e1e1e" stroke-width="1.0" fill-opacity="0.2"/>
<circle cx="408.60" cy="316.40" r="1.6" fill="#000" stroke="#1e1e1e" stroke-width="1.0" fill-opacity="0.2"/>
<circle cx="435.90" cy="320.40" r="1.6" fill="#000" stroke="#1e1e1e" stroke-width="1.0" fill-opacity="0.2"/>
<circle cx="429.80" cy="328.90" r="1.6" fill="#000" stroke="#1e1e1e" stroke-width="1.0" fill-opacity="0.2"/>
<circle cx="432.70" cy="327.60" r="1.6" fill="#000" stroke="#1e1e1e" stroke-width="1.0" fill-opacity="0.2"/>
<circle cx="410.80" cy="335.50" r="1.6" fill="#000" stroke="#1e1e1e" stroke-width="1.0" fill-opacity="0.2"/>
<circle cx="456.50" cy="330.80" r="1.6" fill="#000" stroke="#1e1e1e" stroke-width="1.0" fill-opacity="0.2"/>
<circle cx="440.40" cy="333.60" r="1.6" fill="#000" stroke="#1e1e1e" stroke-width="1.0" fill-opacity="0.2"/>
<circle cx="413.10" cy="340.60" r="1.6" fill="#000" stroke="#1e1e1e" stroke-width="1.0" fill-opacity="0.2"/>
<circle cx="422.80" cy="342.60" r="1.6" fill="#000" stroke="#1e1e1e" stroke-width="1.0" fill-opacity="0.2"/>
<circle cx="421.30" cy="338.40" r="1.6" fill="#000" stroke="#1e1e1e" stroke-width="1.0" fill-opacity="0.2"/>
<circle cx="436.20" cy="340.30" r="1.6" fill="#000" stroke="#1e1e1e" stroke-width="1.0" fill-opacity="0.2"/>
<circle cx="503.60" cy="331.40" r="1.6" fill="#000" stroke="#1e1e1e" stroke-width="1.0" fill-opacity="0.2"/>
<circle cx="364.10" cy="328.00" r="1.6" fill="#000" stroke="#1e1e1e" stroke-width="1.0" fill-opacity="0.2"/>
<circle cx="393.90" cy="331.80" r="1.6" fill="#000" stroke="#1e1e1e" stroke-width="1.0" fill-opacity="0.2"/>
<circle cx="387.60" cy="336.10" r="1.6" fill="#000" stroke="#1e1e1e" stroke-width="1.0" fill-opacity="0.2"/>
<circle cx="357.10" cy="347.10" r="1.6" fill="#000" stroke="#1e1e1e" stroke-width="1.0" fill-opacity="0.2"/>
<circle cx="395.20" cy="347.50" r="1.6" fill="#000" stroke="#1e1e1e" stroke-width="1.0" fill-opacity="0.2"/>
<circle cx="287.60" cy="399.50" r="1.6" fill="#000" stroke="#1e1e1e" stroke-width="1.0" fill-opacity="0.2"/>
<circle cx="361.50" cy="393.50" r="1.6" fill="#000" stroke="#1e1e1e" stroke-width="1.0" fill-opacity="0.2"/>
<circle cx="360.90" cy="394.80" r="1.6" fill="#000" stroke="#1e1e1e" stroke-width="1.0" fill-opacity="0.2"/>
<circle cx="367.30" cy="390.40" r="1.6" fill="#000" stroke="#1e1e1e" stroke-width="1.0" fill-opacity="0.2"/>
<circle cx="384.60" cy="392.00" r="1.6" fill="#000" stroke="#1e1e1e" stroke-width="1.0" fill-opacity="0.2"/>
<circle cx="383.80" cy="391.10" r="1.6" fill="#000" stroke="#1e1e1e" stroke-width="1.0" fill-opacity="0.2"/>
<circle cx="388.20" cy="397.50" r="1.6" fill="#000" stroke="#1e1e1e" stroke-width="1.0" fill-opacity="0.2"/>
<circle cx="390.10" cy="404.30" r="1.6" fill="#000" stroke="#1e1e1e" stroke-width="1.0" fill-opacity="0.2"/>
<circle cx="371.90" cy="403.80" r="1.6" fill="#000" stroke="#1e1e1e" stroke-width="1.0" fill-opacity="0.2"/>
<circle cx="362.00" cy="407.30" r="1.6" fill="#000" stroke="#1e1e1e" stroke-width="1.0" fill-opacity="0.2"/>
<circle cx="365.00" cy="415.40" r="1.6" fill="#000" stroke="#1e1e1e" stroke-width="1.0" fill-opacity="0.2"/>
<circle cx="383.80" cy="407.80" r="1.6" fill="#000" stroke="#1e1e1e" stroke-width="1.0" fill-opacity="0.2"/>
<circle cx="384.60" cy="411.00" r="1.6" fill="#000" stroke="#1e1e1e" stroke-width="1.0" fill-opacity="0.2"/>
<circle cx="385.50" cy="409.00" r="1.6" fill="#000" stroke="#1e1e1e" stroke-width="1.0" fill-opacity="0.2"/>
<circle cx="402.00" cy="409.40" r="1.6" fill="#000" stroke="#1e1e1e" stroke-width="1.0" fill-opacity="0.2"/>
<circle cx="404.40" cy="390.00" r="1.6" fill="#000" stroke="#1e1e1e" stroke-width="1.0" fill-opacity="0.2"/>
<circle cx="409.10" cy="390.40" r="1.6" fill="#000" stroke="#1e1e1e" stroke-width="1.0" fill-opacity="0.2"/>
<circle cx="420.30" cy="386.00" r="1.6" fill="#000" stroke="#1e1e1e" stroke-width="1.0" fill-opacity="0.2"/>
<circle cx="410.40" cy="400.20" r="1.6" fill="#000" stroke="#1e1e1e" stroke-width="1.0" fill-opacity="0.2"/>
<circle cx="406.00" cy="418.60" r="1.6" fill="#000" stroke="#1e1e1e" stroke-width="1.0" fill-opacity="0.2"/>
<circle cx="419.50" cy="416.50" r="1.6" fill="#000" stroke="#1e1e1e" stroke-width="1.0" fill-opacity="0.2"/>
<circle cx="423.20" cy="398.60" r="1.6" fill="#000" stroke="#1e1e1e" stroke-width="1.0" fill-opacity="0.2"/>
<circle cx="435.10" cy="393.20" r="1.6" fill="#000" stroke="#1e1e1e" stroke-width="1.0" fill-opacity="0.2"/>
<circle cx="436.70" cy="394.30" r="1.6" fill="#000" stroke="#1e1e1e" stroke-width="1.0" fill-opacity="0.2"/>
<circle cx="431.10" cy="395.90" r="1.6" fill="#000" stroke="#1e1e1e" stroke-width="1.0" fill-opacity="0.2"/>
<circle cx="428.80" cy="400.70" r="1.6" fill="#000" stroke="#1e1e1e" stroke-width="1.0" fill-opacity="0.2"/>
<circle cx="439.90" cy="396.70" r="1.6" fill="#000" stroke="#1e1e1e" stroke-width="1.0" fill-opacity="0.2"/>
<circle cx="417.70" cy="401.80" r="1.6" fill="#000" stroke="#1e1e1e" stroke-width="1.0" fill-opacity="0.2"/>
<circle cx="420.10" cy="405.40" r="1.6" fill="#000" stroke="#1e1e1e" stroke-width="1.0" fill-opacity="0.2"/>
<circle cx="416.10" cy="409.40" r="1.6" fill="#000" stroke="#1e1e1e" stroke-width="1.0" fill-opacity="0.2"/>
<circle cx="418.60" cy="402.20" r="1.6" fill="#000" stroke="#1e1e1e" stroke-width="1.0" fill-opacity="0.2"/>
<circle cx="434.30" cy="411.00" r="1.6" fill="#000" stroke="#1e1e1e" stroke-width="1.0" fill-opacity="0.2"/>
<circle cx="434.30" cy="423.30" r="1.6" fill="#000" stroke="#1e1e1e" stroke-width="1.0" fill-opacity="0.2"/>
<circle cx="433.20" cy="430.00" r="1.6" fill="#000" stroke="#1e1e1e" stroke-width="1.0" fill-opacity="0.2"/>
<circle cx="436.40" cy="387.20" r="1.6" fill="#000" stroke="#1e1e1e" stroke-width="1.0" fill-opacity="0.2"/>
<text transform="translate(432.40 232.90) scale(0.93 1)" font-size="6.02" fill="#262626" stroke="#262626" stroke-width="0.16" text-anchor="start" font-weight="bold">TXNIP</text>
<text transform="translate(415.90 263.90) scale(0.93 1)" font-size="6.02" fill="#262626" stroke="#262626" stroke-width="0.16" text-anchor="start" font-weight="normal">MAP3K6</text>
<text transform="translate(381.20 268.80) scale(0.93 1)" font-size="6.02" fill="#262626" stroke="#262626" stroke-width="0.16" text-anchor="start" font-weight="normal">IRAK3</text>
<text transform="translate(371.00 282.80) scale(0.93 1)" font-size="6.02" fill="#262626" stroke="#262626" stroke-width="0.16" text-anchor="start" font-weight="normal">RASSF4</text>
<text transform="translate(366.00 292.50) scale(0.93 1)" font-size="6.02" fill="#262626" stroke="#262626" stroke-width="0.16" text-anchor="start" font-weight="normal">AHDC1</text>
<text transform="translate(405.70 284.20) scale(0.93 1)" font-size="6.02" fill="#262626" stroke="#262626" stroke-width="0.16" text-anchor="start" font-weight="normal">PRDM1</text>
<text transform="translate(402.30 297.40) scale(0.93 1)" font-size="6.02" fill="#262626" stroke="#262626" stroke-width="0.16" text-anchor="start" font-weight="normal">SMARCA2</text>
<text transform="translate(434.90 299.30) scale(0.93 1)" font-size="6.02" fill="#262626" stroke="#262626" stroke-width="0.16" text-anchor="start" font-weight="normal">BIN1</text>
<text transform="translate(332.00 304.40) scale(0.93 1)" font-size="6.02" fill="#262626" stroke="#262626" stroke-width="0.16" text-anchor="start" font-weight="normal">ZNF318</text>
<text transform="translate(402.80 314.10) scale(0.93 1)" font-size="6.02" fill="#262626" stroke="#262626" stroke-width="0.16" text-anchor="start" font-weight="normal">GNA12</text>
<text transform="translate(425.40 316.20) scale(0.93 1)" font-size="6.02" fill="#262626" stroke="#262626" stroke-width="0.16" text-anchor="start" font-weight="normal">SERTAD1</text>
<text transform="translate(413.00 323.40) scale(0.93 1)" font-size="6.02" fill="#262626" stroke="#262626" stroke-width="0.16" text-anchor="start" font-weight="normal">DGKD</text>
<text transform="translate(442.50 324.50) scale(0.93 1)" font-size="6.02" fill="#262626" stroke="#262626" stroke-width="0.16" text-anchor="start" font-weight="normal">SBF1</text>
<text transform="translate(459.40 330.40) scale(0.93 1)" font-size="6.02" fill="#262626" stroke="#262626" stroke-width="0.16" text-anchor="start" font-weight="normal">DUSP6</text>
<text transform="translate(494.10 330.80) scale(0.93 1)" font-size="6.02" fill="#262626" stroke="#262626" stroke-width="0.16" text-anchor="start" font-weight="bold">GR</text>
<text transform="translate(342.30 326.60) scale(0.93 1)" font-size="6.02" fill="#262626" stroke="#262626" stroke-width="0.16" text-anchor="start" font-weight="normal">CPEB3</text>
<text transform="translate(373.60 329.80) scale(0.93 1)" font-size="6.02" fill="#262626" stroke="#262626" stroke-width="0.16" text-anchor="start" font-weight="normal">TFIP11</text>
<text transform="translate(407.00 332.90) scale(0.93 1)" font-size="6.02" fill="#262626" stroke="#262626" stroke-width="0.16" text-anchor="start" font-weight="normal">IRF4</text>
<text transform="translate(442.50 338.50) scale(0.93 1)" font-size="6.02" fill="#262626" stroke="#262626" stroke-width="0.16" text-anchor="start" font-weight="normal">MTCH1</text>
<text transform="translate(366.00 341.90) scale(0.93 1)" font-size="6.02" fill="#262626" stroke="#262626" stroke-width="0.16" text-anchor="start" font-weight="normal">PREX1</text>
<text transform="translate(335.00 346.20) scale(0.93 1)" font-size="6.02" fill="#262626" stroke="#262626" stroke-width="0.16" text-anchor="start" font-weight="normal">MEF2A</text>
<text transform="translate(403.60 348.20) scale(0.93 1)" font-size="6.02" fill="#262626" stroke="#262626" stroke-width="0.16" text-anchor="start" font-weight="normal">TLK1</text>
<text transform="translate(421.80 348.80) scale(0.93 1)" font-size="6.02" fill="#262626" stroke="#262626" stroke-width="0.16" text-anchor="start" font-weight="normal">AFF1</text>
<text transform="translate(438.10 347.30) scale(0.93 1)" font-size="6.02" fill="#262626" stroke="#262626" stroke-width="0.16" text-anchor="start" font-weight="bold">BCL2L11</text>
<text transform="translate(375.90 353.40) scale(0.93 1)" font-size="6.02" fill="#262626" stroke="#262626" stroke-width="0.16" text-anchor="start" font-weight="normal">SP100</text>
<text transform="translate(406.10 357.70) scale(0.93 1)" font-size="6.02" fill="#262626" stroke="#262626" stroke-width="0.16" text-anchor="start" font-weight="normal">CTBP1</text>
<text transform="translate(373.20 365.90) scale(0.93 1)" font-size="6.02" fill="#262626" stroke="#262626" stroke-width="0.16" text-anchor="start" font-weight="normal">HSP90B1</text>
<text transform="translate(343.80 375.70) scale(0.93 1)" font-size="6.02" fill="#262626" stroke="#262626" stroke-width="0.16" text-anchor="start" font-weight="bold">SPI1</text>
<text transform="translate(358.80 375.70) scale(0.93 1)" font-size="6.02" fill="#262626" stroke="#262626" stroke-width="0.16" text-anchor="start" font-weight="normal">XPO5</text>
<text transform="translate(377.40 377.80) scale(0.93 1)" font-size="6.02" fill="#262626" stroke="#262626" stroke-width="0.16" text-anchor="start" font-weight="bold">IL7R</text>
<text transform="translate(325.50 382.50) scale(0.93 1)" font-size="6.02" fill="#262626" stroke="#262626" stroke-width="0.16" text-anchor="start" font-weight="normal">TOP2B</text>
<text transform="translate(368.50 383.70) scale(0.93 1)" font-size="6.02" fill="#262626" stroke="#262626" stroke-width="0.16" text-anchor="start" font-weight="normal">ZMIZ1</text>
<text transform="translate(335.10 399.50) scale(0.93 1)" font-size="6.02" fill="#262626" stroke="#262626" stroke-width="0.16" text-anchor="start" font-weight="bold">BCOR</text>
<text transform="translate(363.00 399.90) scale(0.93 1)" font-size="6.02" fill="#262626" stroke="#262626" stroke-width="0.16" text-anchor="start" font-weight="normal">APBB1IP</text>
<text transform="translate(332.70 404.70) scale(0.93 1)" font-size="6.02" fill="#262626" stroke="#262626" stroke-width="0.16" text-anchor="start" font-weight="normal">CMTM7</text>
<text transform="translate(346.10 411.10) scale(0.93 1)" font-size="6.02" fill="#262626" stroke="#262626" stroke-width="0.16" text-anchor="start" font-weight="bold">TCF4</text>
<text transform="translate(287.90 407.40) scale(0.93 1)" font-size="6.02" fill="#262626" stroke="#262626" stroke-width="0.16" text-anchor="start" font-weight="normal">MBNL1</text>
<text transform="translate(343.00 419.80) scale(0.93 1)" font-size="6.02" fill="#262626" stroke="#262626" stroke-width="0.16" text-anchor="start" font-weight="bold">PIK3CD</text>
<text transform="translate(341.90 431.20) scale(0.93 1)" font-size="6.02" fill="#262626" stroke="#262626" stroke-width="0.16" text-anchor="start" font-weight="normal">CBX4</text>
<text transform="translate(362.90 428.50) scale(0.93 1)" font-size="6.02" fill="#262626" stroke="#262626" stroke-width="0.16" text-anchor="start" font-weight="bold">LEF1</text>
<text transform="translate(379.00 426.90) scale(0.93 1)" font-size="6.02" fill="#262626" stroke="#262626" stroke-width="0.16" text-anchor="start" font-weight="bold">BCL2</text>
<text transform="translate(378.20 435.60) scale(0.93 1)" font-size="6.02" fill="#262626" stroke="#262626" stroke-width="0.16" text-anchor="start" font-weight="normal">MEF2C</text>
<text transform="translate(402.80 373.80) scale(0.93 1)" font-size="6.02" fill="#262626" stroke="#262626" stroke-width="0.16" text-anchor="start" font-weight="normal">CARM1</text>
<text transform="translate(408.30 378.60) scale(0.93 1)" font-size="6.02" fill="#262626" stroke="#262626" stroke-width="0.16" text-anchor="start" font-weight="normal">DDX54</text>
<text transform="translate(414.70 383.30) scale(0.93 1)" font-size="6.02" fill="#262626" stroke="#262626" stroke-width="0.16" text-anchor="start" font-weight="normal">RALGDS</text>
<text transform="translate(416.90 393.50) scale(0.93 1)" font-size="6.02" fill="#262626" stroke="#262626" stroke-width="0.16" text-anchor="start" font-weight="normal">ATF5</text>
<text transform="translate(402.50 398.10) scale(0.93 1)" font-size="6.02" fill="#262626" stroke="#262626" stroke-width="0.16" text-anchor="start" font-weight="normal">DKC1</text>
<text transform="translate(397.70 407.10) scale(0.93 1)" font-size="6.02" fill="#262626" stroke="#262626" stroke-width="0.16" text-anchor="start" font-weight="normal">MRTO4</text>
<text transform="translate(403.10 435.60) scale(0.93 1)" font-size="6.02" fill="#262626" stroke="#262626" stroke-width="0.16" text-anchor="start" font-weight="normal">EEF2K</text>
<text transform="translate(410.20 427.70) scale(0.93 1)" font-size="6.02" fill="#262626" stroke="#262626" stroke-width="0.16" text-anchor="start" font-weight="normal">NOTCH1</text>
<text transform="translate(431.60 375.70) scale(0.93 1)" font-size="6.02" fill="#262626" stroke="#262626" stroke-width="0.16" text-anchor="start" font-weight="normal">ZNF423</text>
<text transform="translate(455.50 375.70) scale(0.93 1)" font-size="6.02" fill="#262626" stroke="#262626" stroke-width="0.16" text-anchor="start" font-weight="normal">EBNA1BP2</text>
<text transform="translate(457.10 381.70) scale(0.93 1)" font-size="6.02" fill="#262626" stroke="#262626" stroke-width="0.16" text-anchor="start" font-weight="normal">PIK3R2</text>
<text transform="translate(457.90 387.00) scale(0.93 1)" font-size="6.02" fill="#262626" stroke="#262626" stroke-width="0.16" text-anchor="start" font-weight="normal">POLR3K</text>
<text transform="translate(457.60 392.00) scale(0.93 1)" font-size="6.02" fill="#262626" stroke="#262626" stroke-width="0.16" text-anchor="start" font-weight="normal">RRP12</text>
<text transform="translate(476.10 393.60) scale(0.93 1)" font-size="6.02" fill="#262626" stroke="#262626" stroke-width="0.16" text-anchor="start" font-weight="normal">MAST3</text>
<text transform="translate(472.50 399.20) scale(0.93 1)" font-size="6.02" fill="#262626" stroke="#262626" stroke-width="0.16" text-anchor="start" font-weight="normal">NASP</text>
<text transform="translate(440.70 404.70) scale(0.93 1)" font-size="6.02" fill="#262626" stroke="#262626" stroke-width="0.16" text-anchor="start" font-weight="normal">PPRC1</text>
<text transform="translate(440.70 409.90) scale(0.93 1)" font-size="6.02" fill="#262626" stroke="#262626" stroke-width="0.16" text-anchor="start" font-weight="normal">DNAJA1</text>
<text transform="translate(436.70 415.60) scale(0.93 1)" font-size="6.02" fill="#262626" stroke="#262626" stroke-width="0.16" text-anchor="start" font-weight="normal">PLEKHO1</text>
<text transform="translate(430.40 421.50) scale(0.93 1)" font-size="6.02" fill="#262626" stroke="#262626" stroke-width="0.16" text-anchor="start" font-weight="normal">LDLR</text>
<text transform="translate(436.70 427.70) scale(0.93 1)" font-size="6.02" fill="#262626" stroke="#262626" stroke-width="0.16" text-anchor="start" font-weight="normal">ETV6</text>
<text transform="translate(434.80 435.60) scale(0.93 1)" font-size="6.02" fill="#262626" stroke="#262626" stroke-width="0.16" text-anchor="start" font-weight="normal">LTB</text>
<line x1="390.80" y1="284.40" x2="396.50" y2="291.40" stroke="#141414" stroke-width="1.0" />
<line x1="419.00" y1="298.40" x2="420.60" y2="306.60" stroke="#141414" stroke-width="1.0" />
<line x1="433.40" y1="297.80" x2="426.00" y2="302.60" stroke="#141414" stroke-width="1.0" />
<line x1="435.90" y1="316.50" x2="435.90" y2="320.40" stroke="#141414" stroke-width="1.0" />
<line x1="425.40" y1="323.80" x2="429.80" y2="328.90" stroke="#141414" stroke-width="1.0" />
<line x1="442.50" y1="324.20" x2="432.70" y2="327.60" stroke="#141414" stroke-width="1.0" />
<line x1="415.90" y1="352.40" x2="421.30" y2="338.40" stroke="#141414" stroke-width="1.0" />
<line x1="355.70" y1="376.90" x2="361.50" y2="393.50" stroke="#141414" stroke-width="1.0" />
<line x1="365.20" y1="376.90" x2="367.50" y2="390.40" stroke="#141414" stroke-width="1.0" />
<line x1="343.50" y1="381.60" x2="360.90" y2="394.80" stroke="#141414" stroke-width="1.0" />
<line x1="393.30" y1="367.40" x2="388.20" y2="397.50" stroke="#141414" stroke-width="1.0" />
<line x1="387.70" y1="378.50" x2="384.60" y2="392.00" stroke="#141414" stroke-width="1.0" />
<line x1="380.60" y1="384.00" x2="383.80" y2="391.10" stroke="#141414" stroke-width="1.0" />
<line x1="350.90" y1="398.60" x2="390.10" y2="404.30" stroke="#141414" stroke-width="1.0" />
<line x1="352.50" y1="403.80" x2="371.90" y2="403.80" stroke="#141414" stroke-width="1.0" />
<line x1="356.10" y1="427.60" x2="383.40" y2="408.60" stroke="#141414" stroke-width="1.0" />
<line x1="371.50" y1="421.30" x2="383.40" y2="411.00" stroke="#141414" stroke-width="1.0" />
<line x1="387.70" y1="422.00" x2="384.60" y2="410.20" stroke="#141414" stroke-width="1.0" />
<line x1="395.70" y1="432.40" x2="402.00" y2="409.40" stroke="#141414" stroke-width="1.0" />
<line x1="404.40" y1="374.50" x2="404.40" y2="390.00" stroke="#141414" stroke-width="1.0" />
<line x1="410.70" y1="380.00" x2="409.10" y2="390.40" stroke="#141414" stroke-width="1.0" />
<line x1="406.00" y1="418.60" x2="406.00" y2="430.00" stroke="#141414" stroke-width="1.0" />
<line x1="419.50" y1="416.50" x2="419.50" y2="422.00" stroke="#141414" stroke-width="1.0" />
<line x1="423.20" y1="394.00" x2="423.20" y2="398.60" stroke="#141414" stroke-width="1.0" />
<line x1="443.00" y1="376.40" x2="436.40" y2="387.20" stroke="#141414" stroke-width="1.0" />
<line x1="455.70" y1="376.40" x2="435.10" y2="393.20" stroke="#141414" stroke-width="1.0" />
<line x1="457.00" y1="378.70" x2="436.70" y2="394.30" stroke="#141414" stroke-width="1.0" />
<line x1="457.50" y1="384.00" x2="431.10" y2="395.90" stroke="#141414" stroke-width="1.0" />
<line x1="457.50" y1="389.00" x2="439.90" y2="396.70" stroke="#141414" stroke-width="1.0" />
<line x1="476.00" y1="391.00" x2="428.80" y2="400.70" stroke="#141414" stroke-width="1.0" />
<line x1="472.50" y1="396.50" x2="428.80" y2="400.70" stroke="#141414" stroke-width="1.0" />
<line x1="440.70" y1="402.50" x2="417.70" y2="401.80" stroke="#141414" stroke-width="1.0" />
<line x1="440.70" y1="407.00" x2="420.10" y2="405.40" stroke="#141414" stroke-width="1.0" />
<line x1="429.60" y1="417.30" x2="416.10" y2="409.40" stroke="#141414" stroke-width="1.0" />
<rect x="0.6" y="0.6" width="518.9" height="471.9" fill="none" stroke="#000" stroke-width="1.3"/>
</svg></body></html>
